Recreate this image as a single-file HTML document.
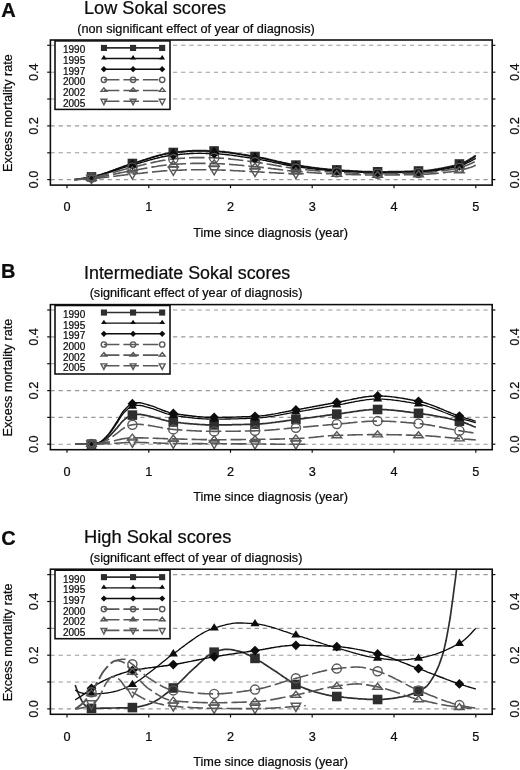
<!DOCTYPE html>
<html><head><meta charset="utf-8"><title>Excess mortality rate by Sokal score</title>
<style>html,body{margin:0;padding:0;background:#fff;}body{width:520px;height:770px;overflow:hidden;font-family:"Liberation Sans",sans-serif;}svg{display:block;}text{fill:#0a0a0a;stroke:#0a0a0a;stroke-width:0.22px;}</style>
</head><body>
<svg width="520" height="770" viewBox="0 0 520 770" font-family="Liberation Sans, sans-serif">
<rect width="520" height="770" fill="#fff"/>
<filter id="soft" x="0" y="0" width="100%" height="100%" filterUnits="objectBoundingBox"><feGaussianBlur stdDeviation="0.38"/></filter>
<g filter="url(#soft)">
<rect width="520" height="770" fill="#fff"/>
<defs><clipPath id="cpA"><rect x="50.4" y="40.0" width="441.8" height="145.1"/></clipPath>
<clipPath id="cpB"><rect x="50.4" y="304.6" width="441.8" height="145.1"/></clipPath>
<clipPath id="cpC"><rect x="50.4" y="569.2" width="441.8" height="145.1"/></clipPath></defs>
<g id="panelA">
<text x="1.2" y="17.1" font-size="20" font-weight="bold" fill="#111">A</text>
<text x="84" y="14.0" font-size="18.15" fill="#111">Low Sokal scores</text>
<text x="196" y="32.5" font-size="12.7" fill="#111" text-anchor="middle">(non significant effect of year of diagnosis)</text>
<line x1="50.4" y1="179.6" x2="492.2" y2="179.6" stroke="#9a9a9a" stroke-width="1.1" stroke-dasharray="4.3 3.87"/>
<line x1="50.4" y1="152.8" x2="492.2" y2="152.8" stroke="#9a9a9a" stroke-width="1.1" stroke-dasharray="4.3 3.87"/>
<line x1="50.4" y1="125.9" x2="492.2" y2="125.9" stroke="#9a9a9a" stroke-width="1.1" stroke-dasharray="4.3 3.87"/>
<line x1="50.4" y1="99.0" x2="492.2" y2="99.0" stroke="#9a9a9a" stroke-width="1.1" stroke-dasharray="4.3 3.87"/>
<line x1="50.4" y1="72.2" x2="492.2" y2="72.2" stroke="#9a9a9a" stroke-width="1.1" stroke-dasharray="4.3 3.87"/>
<line x1="50.4" y1="45.3" x2="492.2" y2="45.3" stroke="#9a9a9a" stroke-width="1.1" stroke-dasharray="4.3 3.87"/>
<g clip-path="url(#cpA)" fill="none">
<path d="M74.4 179.6 L75.7 179.5 L77.1 179.3 L78.4 179.1 L79.8 178.9 L81.2 178.7 L82.5 178.5 L83.9 178.3 L85.2 178.1 L86.6 177.9 L88.0 177.6 L89.3 177.3 L90.7 177.1 L92.0 176.8 L93.4 176.5 L94.8 176.2 L96.1 175.8 L97.5 175.5 L98.8 175.1 L100.2 174.7 L101.6 174.3 L102.9 173.8 L104.3 173.4 L105.7 172.9 L107.0 172.5 L108.4 172.0 L109.7 171.5 L111.1 171.0 L112.5 170.5 L113.8 170.0 L115.2 169.5 L116.5 169.0 L117.9 168.5 L119.3 168.0 L120.6 167.5 L122.0 167.0 L123.3 166.5 L124.7 166.0 L126.1 165.5 L127.4 165.1 L128.8 164.6 L130.1 164.2 L131.5 163.8 L132.9 163.4 L134.2 162.9 L135.6 162.5 L136.9 162.1 L138.3 161.7 L139.7 161.2 L141.0 160.8 L142.4 160.4 L143.8 159.9 L145.1 159.5 L146.5 159.0 L147.8 158.6 L149.2 158.2 L150.6 157.8 L151.9 157.3 L153.3 156.9 L154.6 156.5 L156.0 156.1 L157.4 155.7 L158.7 155.4 L160.1 155.0 L161.4 154.7 L162.8 154.3 L164.2 154.0 L165.5 153.7 L166.9 153.5 L168.2 153.2 L169.6 153.0 L171.0 152.8 L172.3 152.6 L173.7 152.4 L175.0 152.3 L176.4 152.1 L177.8 152.0 L179.1 151.8 L180.5 151.7 L181.8 151.5 L183.2 151.4 L184.6 151.3 L185.9 151.2 L187.3 151.0 L188.7 150.9 L190.0 150.9 L191.4 150.8 L192.7 150.7 L194.1 150.7 L195.5 150.6 L196.8 150.6 L198.2 150.6 L199.5 150.6 L200.9 150.6 L202.3 150.6 L203.6 150.7 L205.0 150.7 L206.3 150.7 L207.7 150.8 L209.1 150.8 L210.4 150.9 L211.8 150.9 L213.1 151.0 L214.5 151.0 L215.9 151.1 L217.2 151.2 L218.6 151.2 L219.9 151.4 L221.3 151.5 L222.7 151.6 L224.0 151.7 L225.4 151.9 L226.8 152.0 L228.1 152.2 L229.5 152.4 L230.8 152.6 L232.2 152.8 L233.6 153.0 L234.9 153.2 L236.3 153.4 L237.6 153.6 L239.0 153.8 L240.4 154.0 L241.7 154.3 L243.1 154.5 L244.4 154.7 L245.8 154.9 L247.2 155.2 L248.5 155.4 L249.9 155.6 L251.2 155.9 L252.6 156.1 L254.0 156.3 L255.3 156.6 L256.7 156.8 L258.0 157.0 L259.4 157.3 L260.8 157.6 L262.1 157.8 L263.5 158.1 L264.8 158.4 L266.2 158.7 L267.6 159.0 L268.9 159.3 L270.3 159.7 L271.7 160.0 L273.0 160.3 L274.4 160.6 L275.7 160.9 L277.1 161.3 L278.5 161.6 L279.8 161.9 L281.2 162.2 L282.5 162.5 L283.9 162.8 L285.3 163.1 L286.6 163.4 L288.0 163.7 L289.3 164.0 L290.7 164.2 L292.1 164.5 L293.4 164.7 L294.8 164.9 L296.1 165.1 L297.5 165.3 L298.9 165.5 L300.2 165.7 L301.6 165.9 L302.9 166.1 L304.3 166.3 L305.7 166.5 L307.0 166.7 L308.4 166.9 L309.8 167.1 L311.1 167.3 L312.5 167.5 L313.8 167.6 L315.2 167.8 L316.6 168.0 L317.9 168.1 L319.3 168.3 L320.6 168.5 L322.0 168.6 L323.4 168.8 L324.7 168.9 L326.1 169.0 L327.4 169.2 L328.8 169.3 L330.2 169.4 L331.5 169.5 L332.9 169.7 L334.2 169.8 L335.6 169.9 L337.0 169.9 L338.3 170.0 L339.7 170.1 L341.0 170.2 L342.4 170.3 L343.8 170.4 L345.1 170.5 L346.5 170.6 L347.8 170.7 L349.2 170.7 L350.6 170.8 L351.9 170.9 L353.3 171.0 L354.7 171.1 L356.0 171.1 L357.4 171.2 L358.7 171.3 L360.1 171.4 L361.5 171.4 L362.8 171.5 L364.2 171.5 L365.5 171.6 L366.9 171.6 L368.3 171.7 L369.6 171.7 L371.0 171.7 L372.3 171.8 L373.7 171.8 L375.1 171.8 L376.4 171.8 L377.8 171.8 L379.1 171.8 L380.5 171.8 L381.9 171.8 L383.2 171.8 L384.6 171.8 L385.9 171.8 L387.3 171.8 L388.7 171.7 L390.0 171.7 L391.4 171.7 L392.8 171.7 L394.1 171.7 L395.5 171.6 L396.8 171.6 L398.2 171.6 L399.6 171.6 L400.9 171.5 L402.3 171.5 L403.6 171.5 L405.0 171.4 L406.4 171.4 L407.7 171.4 L409.1 171.3 L410.4 171.3 L411.8 171.2 L413.2 171.2 L414.5 171.1 L415.9 171.1 L417.2 171.1 L418.6 171.0 L420.0 170.9 L421.3 170.9 L422.7 170.8 L424.0 170.7 L425.4 170.6 L426.8 170.5 L428.1 170.3 L429.5 170.2 L430.8 170.0 L432.2 169.8 L433.6 169.6 L434.9 169.4 L436.3 169.2 L437.7 169.0 L439.0 168.7 L440.4 168.5 L441.7 168.2 L443.1 168.0 L444.5 167.7 L445.8 167.4 L447.2 167.1 L448.5 166.8 L449.9 166.5 L451.3 166.2 L452.6 165.8 L454.0 165.5 L455.3 165.1 L456.7 164.8 L458.1 164.4 L459.4 164.0 L460.8 163.6 L462.1 163.1 L463.5 162.5 L464.9 161.9 L466.2 161.2 L467.6 160.4 L468.9 159.7 L470.3 158.8 L471.7 158.0 L473.0 157.2 L474.4 156.3 L475.8 155.4" stroke="#2e2e2e" stroke-width="1.7"/>
<path d="M74.4 179.6 L75.7 179.5 L77.1 179.3 L78.4 179.1 L79.8 178.9 L81.2 178.7 L82.5 178.5 L83.9 178.3 L85.2 178.1 L86.6 177.9 L88.0 177.6 L89.3 177.4 L90.7 177.1 L92.0 176.8 L93.4 176.6 L94.8 176.2 L96.1 175.9 L97.5 175.5 L98.8 175.2 L100.2 174.8 L101.6 174.4 L102.9 173.9 L104.3 173.5 L105.7 173.0 L107.0 172.6 L108.4 172.1 L109.7 171.6 L111.1 171.1 L112.5 170.6 L113.8 170.1 L115.2 169.6 L116.5 169.1 L117.9 168.6 L119.3 168.1 L120.6 167.7 L122.0 167.2 L123.3 166.7 L124.7 166.2 L126.1 165.7 L127.4 165.3 L128.8 164.8 L130.1 164.4 L131.5 164.0 L132.9 163.6 L134.2 163.2 L135.6 162.8 L136.9 162.4 L138.3 161.9 L139.7 161.5 L141.0 161.1 L142.4 160.6 L143.8 160.2 L145.1 159.8 L146.5 159.4 L147.8 158.9 L149.2 158.5 L150.6 158.1 L151.9 157.7 L153.3 157.3 L154.6 156.9 L156.0 156.5 L157.4 156.1 L158.7 155.7 L160.1 155.4 L161.4 155.1 L162.8 154.7 L164.2 154.4 L165.5 154.1 L166.9 153.9 L168.2 153.6 L169.6 153.4 L171.0 153.2 L172.3 153.0 L173.7 152.8 L175.0 152.7 L176.4 152.5 L177.8 152.4 L179.1 152.2 L180.5 152.1 L181.8 152.0 L183.2 151.8 L184.6 151.7 L185.9 151.6 L187.3 151.5 L188.7 151.4 L190.0 151.3 L191.4 151.2 L192.7 151.1 L194.1 151.1 L195.5 151.1 L196.8 151.0 L198.2 151.0 L199.5 151.0 L200.9 151.1 L202.3 151.1 L203.6 151.1 L205.0 151.1 L206.3 151.2 L207.7 151.2 L209.1 151.3 L210.4 151.3 L211.8 151.3 L213.1 151.4 L214.5 151.4 L215.9 151.5 L217.2 151.6 L218.6 151.7 L219.9 151.8 L221.3 151.9 L222.7 152.0 L224.0 152.1 L225.4 152.3 L226.8 152.5 L228.1 152.6 L229.5 152.8 L230.8 153.0 L232.2 153.2 L233.6 153.4 L234.9 153.6 L236.3 153.8 L237.6 154.0 L239.0 154.2 L240.4 154.4 L241.7 154.6 L243.1 154.9 L244.4 155.1 L245.8 155.3 L247.2 155.5 L248.5 155.8 L249.9 156.0 L251.2 156.2 L252.6 156.5 L254.0 156.7 L255.3 156.9 L256.7 157.1 L258.0 157.4 L259.4 157.6 L260.8 157.9 L262.1 158.2 L263.5 158.5 L264.8 158.8 L266.2 159.1 L267.6 159.4 L268.9 159.7 L270.3 160.0 L271.7 160.3 L273.0 160.6 L274.4 160.9 L275.7 161.3 L277.1 161.6 L278.5 161.9 L279.8 162.2 L281.2 162.5 L282.5 162.8 L283.9 163.1 L285.3 163.4 L286.6 163.7 L288.0 164.0 L289.3 164.3 L290.7 164.5 L292.1 164.8 L293.4 165.0 L294.8 165.3 L296.1 165.5 L297.5 165.7 L298.9 165.9 L300.2 166.1 L301.6 166.3 L302.9 166.5 L304.3 166.7 L305.7 166.9 L307.0 167.0 L308.4 167.2 L309.8 167.4 L311.1 167.6 L312.5 167.8 L313.8 167.9 L315.2 168.1 L316.6 168.3 L317.9 168.4 L319.3 168.6 L320.6 168.8 L322.0 168.9 L323.4 169.1 L324.7 169.2 L326.1 169.3 L327.4 169.5 L328.8 169.6 L330.2 169.7 L331.5 169.8 L332.9 169.9 L334.2 170.0 L335.6 170.1 L337.0 170.2 L338.3 170.3 L339.7 170.4 L341.0 170.5 L342.4 170.6 L343.8 170.7 L345.1 170.8 L346.5 170.9 L347.8 171.0 L349.2 171.0 L350.6 171.1 L351.9 171.2 L353.3 171.3 L354.7 171.4 L356.0 171.4 L357.4 171.5 L358.7 171.6 L360.1 171.6 L361.5 171.7 L362.8 171.8 L364.2 171.8 L365.5 171.9 L366.9 171.9 L368.3 172.0 L369.6 172.0 L371.0 172.0 L372.3 172.1 L373.7 172.1 L375.1 172.1 L376.4 172.1 L377.8 172.1 L379.1 172.1 L380.5 172.1 L381.9 172.1 L383.2 172.1 L384.6 172.1 L385.9 172.1 L387.3 172.1 L388.7 172.0 L390.0 172.0 L391.4 172.0 L392.8 172.0 L394.1 172.0 L395.5 172.0 L396.8 171.9 L398.2 171.9 L399.6 171.9 L400.9 171.9 L402.3 171.8 L403.6 171.8 L405.0 171.8 L406.4 171.7 L407.7 171.7 L409.1 171.7 L410.4 171.6 L411.8 171.6 L413.2 171.6 L414.5 171.5 L415.9 171.5 L417.2 171.4 L418.6 171.4 L420.0 171.3 L421.3 171.3 L422.7 171.2 L424.0 171.1 L425.4 171.0 L426.8 170.9 L428.1 170.7 L429.5 170.6 L430.8 170.4 L432.2 170.3 L433.6 170.1 L434.9 169.9 L436.3 169.7 L437.7 169.5 L439.0 169.2 L440.4 169.0 L441.7 168.8 L443.1 168.5 L444.5 168.2 L445.8 168.0 L447.2 167.7 L448.5 167.4 L449.9 167.1 L451.3 166.8 L452.6 166.4 L454.0 166.1 L455.3 165.8 L456.7 165.4 L458.1 165.1 L459.4 164.7 L460.8 164.3 L462.1 163.8 L463.5 163.3 L464.9 162.7 L466.2 162.0 L467.6 161.3 L468.9 160.6 L470.3 159.8 L471.7 159.0 L473.0 158.2 L474.4 157.3 L475.8 156.5" stroke="#0c0c0c" stroke-width="1.3"/>
<path d="M74.4 179.6 L75.7 179.5 L77.1 179.3 L78.4 179.2 L79.8 179.0 L81.2 178.8 L82.5 178.6 L83.9 178.4 L85.2 178.2 L86.6 178.0 L88.0 177.8 L89.3 177.6 L90.7 177.3 L92.0 177.1 L93.4 176.8 L94.8 176.5 L96.1 176.2 L97.5 175.9 L98.8 175.5 L100.2 175.2 L101.6 174.8 L102.9 174.4 L104.3 174.0 L105.7 173.6 L107.0 173.1 L108.4 172.7 L109.7 172.3 L111.1 171.8 L112.5 171.4 L113.8 170.9 L115.2 170.5 L116.5 170.0 L117.9 169.5 L119.3 169.1 L120.6 168.6 L122.0 168.2 L123.3 167.7 L124.7 167.3 L126.1 166.9 L127.4 166.4 L128.8 166.0 L130.1 165.6 L131.5 165.3 L132.9 164.9 L134.2 164.5 L135.6 164.1 L136.9 163.8 L138.3 163.4 L139.7 163.0 L141.0 162.6 L142.4 162.2 L143.8 161.8 L145.1 161.4 L146.5 161.0 L147.8 160.6 L149.2 160.2 L150.6 159.8 L151.9 159.5 L153.3 159.1 L154.6 158.7 L156.0 158.4 L157.4 158.0 L158.7 157.7 L160.1 157.4 L161.4 157.0 L162.8 156.7 L164.2 156.5 L165.5 156.2 L166.9 156.0 L168.2 155.7 L169.6 155.5 L171.0 155.3 L172.3 155.2 L173.7 155.0 L175.0 154.9 L176.4 154.7 L177.8 154.6 L179.1 154.5 L180.5 154.3 L181.8 154.2 L183.2 154.1 L184.6 154.0 L185.9 153.9 L187.3 153.8 L188.7 153.7 L190.0 153.6 L191.4 153.5 L192.7 153.5 L194.1 153.4 L195.5 153.4 L196.8 153.4 L198.2 153.4 L199.5 153.4 L200.9 153.4 L202.3 153.4 L203.6 153.4 L205.0 153.4 L206.3 153.5 L207.7 153.5 L209.1 153.6 L210.4 153.6 L211.8 153.6 L213.1 153.7 L214.5 153.7 L215.9 153.8 L217.2 153.9 L218.6 153.9 L219.9 154.0 L221.3 154.1 L222.7 154.3 L224.0 154.4 L225.4 154.5 L226.8 154.7 L228.1 154.8 L229.5 155.0 L230.8 155.1 L232.2 155.3 L233.6 155.5 L234.9 155.7 L236.3 155.9 L237.6 156.1 L239.0 156.3 L240.4 156.5 L241.7 156.7 L243.1 156.9 L244.4 157.1 L245.8 157.3 L247.2 157.5 L248.5 157.7 L249.9 157.9 L251.2 158.1 L252.6 158.3 L254.0 158.5 L255.3 158.7 L256.7 159.0 L258.0 159.2 L259.4 159.4 L260.8 159.7 L262.1 159.9 L263.5 160.2 L264.8 160.4 L266.2 160.7 L267.6 161.0 L268.9 161.3 L270.3 161.6 L271.7 161.9 L273.0 162.2 L274.4 162.5 L275.7 162.8 L277.1 163.0 L278.5 163.3 L279.8 163.6 L281.2 163.9 L282.5 164.2 L283.9 164.5 L285.3 164.7 L286.6 165.0 L288.0 165.3 L289.3 165.5 L290.7 165.8 L292.1 166.0 L293.4 166.2 L294.8 166.4 L296.1 166.6 L297.5 166.8 L298.9 167.0 L300.2 167.2 L301.6 167.3 L302.9 167.5 L304.3 167.7 L305.7 167.9 L307.0 168.1 L308.4 168.2 L309.8 168.4 L311.1 168.6 L312.5 168.7 L313.8 168.9 L315.2 169.0 L316.6 169.2 L317.9 169.3 L319.3 169.5 L320.6 169.6 L322.0 169.8 L323.4 169.9 L324.7 170.0 L326.1 170.2 L327.4 170.3 L328.8 170.4 L330.2 170.5 L331.5 170.6 L332.9 170.7 L334.2 170.8 L335.6 170.9 L337.0 171.0 L338.3 171.1 L339.7 171.2 L341.0 171.2 L342.4 171.3 L343.8 171.4 L345.1 171.5 L346.5 171.6 L347.8 171.6 L349.2 171.7 L350.6 171.8 L351.9 171.9 L353.3 171.9 L354.7 172.0 L356.0 172.1 L357.4 172.2 L358.7 172.2 L360.1 172.3 L361.5 172.3 L362.8 172.4 L364.2 172.4 L365.5 172.5 L366.9 172.5 L368.3 172.6 L369.6 172.6 L371.0 172.6 L372.3 172.7 L373.7 172.7 L375.1 172.7 L376.4 172.7 L377.8 172.7 L379.1 172.7 L380.5 172.7 L381.9 172.7 L383.2 172.7 L384.6 172.7 L385.9 172.7 L387.3 172.7 L388.7 172.6 L390.0 172.6 L391.4 172.6 L392.8 172.6 L394.1 172.6 L395.5 172.6 L396.8 172.5 L398.2 172.5 L399.6 172.5 L400.9 172.5 L402.3 172.4 L403.6 172.4 L405.0 172.4 L406.4 172.4 L407.7 172.3 L409.1 172.3 L410.4 172.3 L411.8 172.2 L413.2 172.2 L414.5 172.2 L415.9 172.1 L417.2 172.1 L418.6 172.0 L420.0 172.0 L421.3 171.9 L422.7 171.9 L424.0 171.8 L425.4 171.7 L426.8 171.6 L428.1 171.4 L429.5 171.3 L430.8 171.2 L432.2 171.0 L433.6 170.8 L434.9 170.7 L436.3 170.5 L437.7 170.3 L439.0 170.1 L440.4 169.8 L441.7 169.6 L443.1 169.4 L444.5 169.1 L445.8 168.9 L447.2 168.6 L448.5 168.3 L449.9 168.1 L451.3 167.8 L452.6 167.5 L454.0 167.2 L455.3 166.9 L456.7 166.5 L458.1 166.2 L459.4 165.9 L460.8 165.5 L462.1 165.1 L463.5 164.6 L464.9 164.0 L466.2 163.4 L467.6 162.7 L468.9 162.0 L470.3 161.3 L471.7 160.6 L473.0 159.8 L474.4 159.1 L475.8 158.3" stroke="#0c0c0c" stroke-width="1.4"/>
<path d="M74.4 179.6 L75.7 179.5 L77.1 179.4 L78.4 179.2 L79.8 179.1 L81.2 178.9 L82.5 178.8 L83.9 178.6 L85.2 178.5 L86.6 178.3 L88.0 178.1 L89.3 177.9 L90.7 177.7 L92.0 177.5 L93.4 177.3 L94.8 177.0 L96.1 176.7 L97.5 176.5 L98.8 176.2 L100.2 175.9 L101.6 175.6 L102.9 175.2 L104.3 174.9 L105.7 174.5 L107.0 174.2 L108.4 173.8 L109.7 173.4 L111.1 173.1 L112.5 172.7 L113.8 172.3 L115.2 171.9 L116.5 171.5 L117.9 171.1 L119.3 170.8 L120.6 170.4 L122.0 170.0 L123.3 169.6 L124.7 169.3 L126.1 168.9 L127.4 168.6 L128.8 168.2 L130.1 167.9 L131.5 167.6 L132.9 167.3 L134.2 166.9 L135.6 166.6 L136.9 166.3 L138.3 166.0 L139.7 165.6 L141.0 165.3 L142.4 165.0 L143.8 164.6 L145.1 164.3 L146.5 164.0 L147.8 163.6 L149.2 163.3 L150.6 163.0 L151.9 162.7 L153.3 162.4 L154.6 162.1 L156.0 161.8 L157.4 161.5 L158.7 161.2 L160.1 160.9 L161.4 160.7 L162.8 160.4 L164.2 160.2 L165.5 160.0 L166.9 159.7 L168.2 159.6 L169.6 159.4 L171.0 159.2 L172.3 159.1 L173.7 159.0 L175.0 158.8 L176.4 158.7 L177.8 158.6 L179.1 158.5 L180.5 158.4 L181.8 158.3 L183.2 158.2 L184.6 158.1 L185.9 158.0 L187.3 157.9 L188.7 157.8 L190.0 157.8 L191.4 157.7 L192.7 157.6 L194.1 157.6 L195.5 157.6 L196.8 157.6 L198.2 157.6 L199.5 157.6 L200.9 157.6 L202.3 157.6 L203.6 157.6 L205.0 157.6 L206.3 157.7 L207.7 157.7 L209.1 157.7 L210.4 157.8 L211.8 157.8 L213.1 157.8 L214.5 157.9 L215.9 157.9 L217.2 158.0 L218.6 158.1 L219.9 158.1 L221.3 158.2 L222.7 158.3 L224.0 158.4 L225.4 158.5 L226.8 158.7 L228.1 158.8 L229.5 158.9 L230.8 159.1 L232.2 159.2 L233.6 159.4 L234.9 159.5 L236.3 159.7 L237.6 159.8 L239.0 160.0 L240.4 160.2 L241.7 160.3 L243.1 160.5 L244.4 160.7 L245.8 160.9 L247.2 161.0 L248.5 161.2 L249.9 161.4 L251.2 161.6 L252.6 161.7 L254.0 161.9 L255.3 162.1 L256.7 162.3 L258.0 162.5 L259.4 162.6 L260.8 162.9 L262.1 163.1 L263.5 163.3 L264.8 163.5 L266.2 163.7 L267.6 164.0 L268.9 164.2 L270.3 164.4 L271.7 164.7 L273.0 164.9 L274.4 165.2 L275.7 165.4 L277.1 165.7 L278.5 165.9 L279.8 166.1 L281.2 166.4 L282.5 166.6 L283.9 166.8 L285.3 167.1 L286.6 167.3 L288.0 167.5 L289.3 167.7 L290.7 167.9 L292.1 168.1 L293.4 168.3 L294.8 168.4 L296.1 168.6 L297.5 168.8 L298.9 168.9 L300.2 169.1 L301.6 169.2 L302.9 169.4 L304.3 169.5 L305.7 169.7 L307.0 169.8 L308.4 170.0 L309.8 170.1 L311.1 170.2 L312.5 170.4 L313.8 170.5 L315.2 170.6 L316.6 170.8 L317.9 170.9 L319.3 171.0 L320.6 171.1 L322.0 171.2 L323.4 171.4 L324.7 171.5 L326.1 171.6 L327.4 171.7 L328.8 171.8 L330.2 171.9 L331.5 172.0 L332.9 172.0 L334.2 172.1 L335.6 172.2 L337.0 172.3 L338.3 172.3 L339.7 172.4 L341.0 172.5 L342.4 172.5 L343.8 172.6 L345.1 172.7 L346.5 172.7 L347.8 172.8 L349.2 172.9 L350.6 172.9 L351.9 173.0 L353.3 173.1 L354.7 173.1 L356.0 173.2 L357.4 173.2 L358.7 173.3 L360.1 173.3 L361.5 173.4 L362.8 173.4 L364.2 173.5 L365.5 173.5 L366.9 173.5 L368.3 173.6 L369.6 173.6 L371.0 173.6 L372.3 173.6 L373.7 173.7 L375.1 173.7 L376.4 173.7 L377.8 173.7 L379.1 173.7 L380.5 173.7 L381.9 173.7 L383.2 173.7 L384.6 173.7 L385.9 173.7 L387.3 173.6 L388.7 173.6 L390.0 173.6 L391.4 173.6 L392.8 173.6 L394.1 173.6 L395.5 173.6 L396.8 173.5 L398.2 173.5 L399.6 173.5 L400.9 173.5 L402.3 173.4 L403.6 173.4 L405.0 173.4 L406.4 173.4 L407.7 173.3 L409.1 173.3 L410.4 173.3 L411.8 173.2 L413.2 173.2 L414.5 173.2 L415.9 173.1 L417.2 173.1 L418.6 173.1 L420.0 173.0 L421.3 173.0 L422.7 172.9 L424.0 172.8 L425.4 172.7 L426.8 172.6 L428.1 172.5 L429.5 172.4 L430.8 172.3 L432.2 172.2 L433.6 172.0 L434.9 171.9 L436.3 171.7 L437.7 171.5 L439.0 171.4 L440.4 171.2 L441.7 171.0 L443.1 170.8 L444.5 170.6 L445.8 170.3 L447.2 170.1 L448.5 169.9 L449.9 169.6 L451.3 169.4 L452.6 169.1 L454.0 168.9 L455.3 168.6 L456.7 168.3 L458.1 168.0 L459.4 167.8 L460.8 167.4 L462.1 167.1 L463.5 166.6 L464.9 166.1 L466.2 165.6 L467.6 165.0 L468.9 164.4 L470.3 163.8 L471.7 163.2 L473.0 162.5 L474.4 161.9 L475.8 161.2" stroke="#585858" stroke-width="1.6" stroke-dasharray="15.5 4"/>
<path d="M74.4 179.6 L75.7 179.5 L77.1 179.4 L78.4 179.3 L79.8 179.2 L81.2 179.1 L82.5 179.0 L83.9 178.9 L85.2 178.8 L86.6 178.6 L88.0 178.5 L89.3 178.3 L90.7 178.2 L92.0 178.0 L93.4 177.9 L94.8 177.7 L96.1 177.5 L97.5 177.3 L98.8 177.1 L100.2 176.9 L101.6 176.6 L102.9 176.4 L104.3 176.1 L105.7 175.9 L107.0 175.6 L108.4 175.3 L109.7 175.1 L111.1 174.8 L112.5 174.5 L113.8 174.2 L115.2 173.9 L116.5 173.7 L117.9 173.4 L119.3 173.1 L120.6 172.8 L122.0 172.5 L123.3 172.3 L124.7 172.0 L126.1 171.7 L127.4 171.5 L128.8 171.2 L130.1 171.0 L131.5 170.7 L132.9 170.5 L134.2 170.3 L135.6 170.0 L136.9 169.8 L138.3 169.6 L139.7 169.3 L141.0 169.1 L142.4 168.8 L143.8 168.6 L145.1 168.3 L146.5 168.1 L147.8 167.8 L149.2 167.6 L150.6 167.4 L151.9 167.1 L153.3 166.9 L154.6 166.7 L156.0 166.5 L157.4 166.2 L158.7 166.0 L160.1 165.8 L161.4 165.6 L162.8 165.5 L164.2 165.3 L165.5 165.1 L166.9 165.0 L168.2 164.8 L169.6 164.7 L171.0 164.6 L172.3 164.5 L173.7 164.4 L175.0 164.3 L176.4 164.2 L177.8 164.1 L179.1 164.0 L180.5 164.0 L181.8 163.9 L183.2 163.8 L184.6 163.7 L185.9 163.7 L187.3 163.6 L188.7 163.6 L190.0 163.5 L191.4 163.5 L192.7 163.4 L194.1 163.4 L195.5 163.4 L196.8 163.4 L198.2 163.4 L199.5 163.4 L200.9 163.4 L202.3 163.4 L203.6 163.4 L205.0 163.4 L206.3 163.4 L207.7 163.5 L209.1 163.5 L210.4 163.5 L211.8 163.5 L213.1 163.6 L214.5 163.6 L215.9 163.6 L217.2 163.7 L218.6 163.7 L219.9 163.8 L221.3 163.8 L222.7 163.9 L224.0 164.0 L225.4 164.1 L226.8 164.2 L228.1 164.3 L229.5 164.4 L230.8 164.5 L232.2 164.6 L233.6 164.7 L234.9 164.8 L236.3 164.9 L237.6 165.0 L239.0 165.2 L240.4 165.3 L241.7 165.4 L243.1 165.5 L244.4 165.7 L245.8 165.8 L247.2 165.9 L248.5 166.1 L249.9 166.2 L251.2 166.3 L252.6 166.4 L254.0 166.6 L255.3 166.7 L256.7 166.8 L258.0 167.0 L259.4 167.1 L260.8 167.3 L262.1 167.4 L263.5 167.6 L264.8 167.7 L266.2 167.9 L267.6 168.1 L268.9 168.2 L270.3 168.4 L271.7 168.6 L273.0 168.7 L274.4 168.9 L275.7 169.1 L277.1 169.3 L278.5 169.4 L279.8 169.6 L281.2 169.8 L282.5 170.0 L283.9 170.1 L285.3 170.3 L286.6 170.4 L288.0 170.6 L289.3 170.7 L290.7 170.9 L292.1 171.0 L293.4 171.2 L294.8 171.3 L296.1 171.4 L297.5 171.5 L298.9 171.6 L300.2 171.7 L301.6 171.8 L302.9 171.9 L304.3 172.1 L305.7 172.2 L307.0 172.3 L308.4 172.4 L309.8 172.5 L311.1 172.6 L312.5 172.7 L313.8 172.8 L315.2 172.9 L316.6 173.0 L317.9 173.1 L319.3 173.1 L320.6 173.2 L322.0 173.3 L323.4 173.4 L324.7 173.5 L326.1 173.6 L327.4 173.6 L328.8 173.7 L330.2 173.8 L331.5 173.8 L332.9 173.9 L334.2 173.9 L335.6 174.0 L337.0 174.0 L338.3 174.1 L339.7 174.1 L341.0 174.2 L342.4 174.2 L343.8 174.3 L345.1 174.3 L346.5 174.4 L347.8 174.4 L349.2 174.5 L350.6 174.5 L351.9 174.6 L353.3 174.6 L354.7 174.7 L356.0 174.7 L357.4 174.7 L358.7 174.8 L360.1 174.8 L361.5 174.9 L362.8 174.9 L364.2 174.9 L365.5 174.9 L366.9 175.0 L368.3 175.0 L369.6 175.0 L371.0 175.0 L372.3 175.0 L373.7 175.1 L375.1 175.1 L376.4 175.1 L377.8 175.1 L379.1 175.1 L380.5 175.1 L381.9 175.1 L383.2 175.1 L384.6 175.0 L385.9 175.0 L387.3 175.0 L388.7 175.0 L390.0 175.0 L391.4 175.0 L392.8 175.0 L394.1 175.0 L395.5 174.9 L396.8 174.9 L398.2 174.9 L399.6 174.9 L400.9 174.9 L402.3 174.9 L403.6 174.8 L405.0 174.8 L406.4 174.8 L407.7 174.8 L409.1 174.7 L410.4 174.7 L411.8 174.7 L413.2 174.6 L414.5 174.6 L415.9 174.6 L417.2 174.6 L418.6 174.5 L420.0 174.5 L421.3 174.4 L422.7 174.4 L424.0 174.3 L425.4 174.3 L426.8 174.2 L428.1 174.1 L429.5 174.0 L430.8 173.9 L432.2 173.8 L433.6 173.7 L434.9 173.6 L436.3 173.5 L437.7 173.3 L439.0 173.2 L440.4 173.0 L441.7 172.9 L443.1 172.7 L444.5 172.6 L445.8 172.4 L447.2 172.2 L448.5 172.0 L449.9 171.9 L451.3 171.7 L452.6 171.5 L454.0 171.3 L455.3 171.1 L456.7 170.8 L458.1 170.6 L459.4 170.4 L460.8 170.2 L462.1 169.9 L463.5 169.5 L464.9 169.1 L466.2 168.7 L467.6 168.3 L468.9 167.8 L470.3 167.4 L471.7 166.9 L473.0 166.4 L474.4 165.8 L475.8 165.3" stroke="#585858" stroke-width="1.6" stroke-dasharray="15.5 4"/>
<path d="M74.4 179.6 L75.7 179.5 L77.1 179.5 L78.4 179.4 L79.8 179.4 L81.2 179.3 L82.5 179.2 L83.9 179.2 L85.2 179.1 L86.6 179.0 L88.0 178.9 L89.3 178.8 L90.7 178.7 L92.0 178.7 L93.4 178.5 L94.8 178.4 L96.1 178.3 L97.5 178.2 L98.9 178.1 L100.2 177.9 L101.6 177.8 L102.9 177.6 L104.3 177.5 L105.7 177.3 L107.0 177.2 L108.4 177.0 L109.7 176.8 L111.1 176.7 L112.5 176.5 L113.8 176.3 L115.2 176.2 L116.5 176.0 L117.9 175.8 L119.3 175.6 L120.6 175.5 L122.0 175.3 L123.3 175.1 L124.7 175.0 L126.1 174.8 L127.4 174.7 L128.8 174.5 L130.2 174.4 L131.5 174.2 L132.9 174.1 L134.2 173.9 L135.6 173.8 L137.0 173.6 L138.3 173.5 L139.7 173.4 L141.0 173.2 L142.4 173.1 L143.8 172.9 L145.1 172.8 L146.5 172.6 L147.8 172.5 L149.2 172.3 L150.6 172.2 L151.9 172.0 L153.3 171.9 L154.7 171.8 L156.0 171.6 L157.4 171.5 L158.7 171.4 L160.1 171.2 L161.5 171.1 L162.8 171.0 L164.2 170.9 L165.5 170.8 L166.9 170.7 L168.3 170.6 L169.6 170.6 L171.0 170.5 L172.3 170.4 L173.7 170.4 L175.1 170.3 L176.4 170.3 L177.8 170.2 L179.1 170.2 L180.5 170.1 L181.9 170.1 L183.2 170.0 L184.6 170.0 L186.0 169.9 L187.3 169.9 L188.7 169.9 L190.0 169.8 L191.4 169.8 L192.8 169.8 L194.1 169.8 L195.5 169.7 L196.8 169.7 L198.2 169.7 L199.6 169.7 L200.9 169.7 L202.3 169.8 L203.6 169.8 L205.0 169.8 L206.4 169.8 L207.7 169.8 L209.1 169.8 L210.4 169.8 L211.8 169.8 L213.2 169.9 L214.5 169.9 L215.9 169.9 L217.3 169.9 L218.6 170.0 L220.0 170.0 L221.3 170.0 L222.7 170.1 L224.1 170.1 L225.4 170.2 L226.8 170.3 L228.1 170.3 L229.5 170.4 L230.9 170.4 L232.2 170.5 L233.6 170.6 L234.9 170.7 L236.3 170.7 L237.7 170.8 L239.0 170.9 L240.4 171.0 L241.7 171.0 L243.1 171.1 L244.5 171.2 L245.8 171.3 L247.2 171.3 L248.6 171.4 L249.9 171.5 L251.3 171.6 L252.6 171.6 L254.0 171.7 L255.4 171.8 L256.7 171.8 L258.1 171.9 L259.4 172.0 L260.8 172.0 L262.2 172.1 L263.5 172.2 L264.9 172.3 L266.2 172.4 L267.6 172.4 L269.0 172.5 L270.3 172.6 L271.7 172.7 L273.0 172.8 L274.4 172.8 L275.8 172.9 L277.1 173.0 L278.5 173.1 L279.9 173.1 L281.2 173.2 L282.6 173.3 L283.9 173.3 L285.3 173.4 L286.7 173.5 L288.0 173.5 L289.4 173.6 L290.7 173.6 L292.1 173.6 L293.5 173.7 L294.8 173.7 L296.2 173.7 L297.5 173.8 L298.9 173.8 L300.3 173.8 L301.6 173.8 L303.0 173.8 L304.3 173.8 L305.7 173.8" stroke="#585858" stroke-width="1.6" stroke-dasharray="15.5 4"/>
</g>
<g>
<rect x="86.7" y="172.1" width="9.6" height="9.6" fill="#2e2e2e"/>
<rect x="127.6" y="158.7" width="9.6" height="9.6" fill="#2e2e2e"/>
<rect x="168.5" y="147.7" width="9.6" height="9.6" fill="#2e2e2e"/>
<rect x="209.3" y="146.2" width="9.6" height="9.6" fill="#2e2e2e"/>
<rect x="250.2" y="151.7" width="9.6" height="9.6" fill="#2e2e2e"/>
<rect x="291.1" y="160.3" width="9.6" height="9.6" fill="#2e2e2e"/>
<rect x="332.0" y="165.1" width="9.6" height="9.6" fill="#2e2e2e"/>
<rect x="372.8" y="167.0" width="9.6" height="9.6" fill="#2e2e2e"/>
<rect x="413.7" y="166.2" width="9.6" height="9.6" fill="#2e2e2e"/>
<rect x="454.6" y="159.2" width="9.6" height="9.6" fill="#2e2e2e"/>
<path d="M91.5 172.2 L96.1 179.5 L86.9 179.5 Z" fill="#0c0c0c"/>
<path d="M132.4 158.9 L137.0 166.2 L127.8 166.2 Z" fill="#0c0c0c"/>
<path d="M173.3 148.1 L177.9 155.4 L168.7 155.4 Z" fill="#0c0c0c"/>
<path d="M214.2 146.6 L218.8 153.9 L209.6 153.9 Z" fill="#0c0c0c"/>
<path d="M255.0 152.1 L259.6 159.4 L250.4 159.4 Z" fill="#0c0c0c"/>
<path d="M295.9 160.6 L300.5 167.9 L291.3 167.9 Z" fill="#0c0c0c"/>
<path d="M336.8 165.4 L341.4 172.7 L332.2 172.7 Z" fill="#0c0c0c"/>
<path d="M377.6 167.3 L382.2 174.6 L373.0 174.6 Z" fill="#0c0c0c"/>
<path d="M418.5 166.6 L423.1 173.9 L413.9 173.9 Z" fill="#0c0c0c"/>
<path d="M459.4 159.9 L464.0 167.2 L454.8 167.2 Z" fill="#0c0c0c"/>
<path d="M91.5 172.3 L96.4 177.2 L91.5 182.1 L86.6 177.2 Z" fill="#0c0c0c"/>
<path d="M132.4 160.1 L137.3 165.0 L132.4 169.9 L127.5 165.0 Z" fill="#0c0c0c"/>
<path d="M173.3 150.2 L178.2 155.1 L173.3 160.0 L168.4 155.1 Z" fill="#0c0c0c"/>
<path d="M214.2 148.8 L219.1 153.7 L214.2 158.6 L209.2 153.7 Z" fill="#0c0c0c"/>
<path d="M255.0 153.8 L259.9 158.7 L255.0 163.6 L250.1 158.7 Z" fill="#0c0c0c"/>
<path d="M295.9 161.7 L300.8 166.6 L295.9 171.5 L291.0 166.6 Z" fill="#0c0c0c"/>
<path d="M336.8 166.1 L341.7 171.0 L336.8 175.9 L331.9 171.0 Z" fill="#0c0c0c"/>
<path d="M377.6 167.8 L382.5 172.7 L377.6 177.6 L372.8 172.7 Z" fill="#0c0c0c"/>
<path d="M418.5 167.1 L423.4 172.0 L418.5 176.9 L413.6 172.0 Z" fill="#0c0c0c"/>
<path d="M459.4 161.0 L464.3 165.9 L459.4 170.8 L454.5 165.9 Z" fill="#0c0c0c"/>
<circle cx="91.5" cy="177.6" r="4.55" fill="none" stroke="#585858" stroke-width="1.4"/>
<circle cx="132.4" cy="167.4" r="4.55" fill="none" stroke="#585858" stroke-width="1.4"/>
<circle cx="173.3" cy="159.0" r="4.55" fill="none" stroke="#585858" stroke-width="1.4"/>
<circle cx="214.2" cy="157.9" r="4.55" fill="none" stroke="#585858" stroke-width="1.4"/>
<circle cx="255.0" cy="162.1" r="4.55" fill="none" stroke="#585858" stroke-width="1.4"/>
<circle cx="295.9" cy="168.6" r="4.55" fill="none" stroke="#585858" stroke-width="1.4"/>
<circle cx="336.8" cy="172.3" r="4.55" fill="none" stroke="#585858" stroke-width="1.4"/>
<circle cx="377.6" cy="173.7" r="4.55" fill="none" stroke="#585858" stroke-width="1.4"/>
<circle cx="418.5" cy="173.1" r="4.55" fill="none" stroke="#585858" stroke-width="1.4"/>
<circle cx="459.4" cy="167.8" r="4.55" fill="none" stroke="#585858" stroke-width="1.4"/>
<path d="M91.5 174.4 L96.3 180.4 L86.7 180.4 Z" fill="none" stroke="#585858" stroke-width="1.4"/>
<path d="M132.4 166.9 L137.2 172.9 L127.6 172.9 Z" fill="none" stroke="#585858" stroke-width="1.4"/>
<path d="M173.3 160.7 L178.1 166.7 L168.5 166.7 Z" fill="none" stroke="#585858" stroke-width="1.4"/>
<path d="M214.2 159.9 L219.0 165.9 L209.3 165.9 Z" fill="none" stroke="#585858" stroke-width="1.4"/>
<path d="M255.0 163.0 L259.8 169.0 L250.2 169.0 Z" fill="none" stroke="#585858" stroke-width="1.4"/>
<path d="M295.9 167.7 L300.7 173.7 L291.1 173.7 Z" fill="none" stroke="#585858" stroke-width="1.4"/>
<path d="M336.8 170.3 L341.6 176.3 L332.0 176.3 Z" fill="none" stroke="#585858" stroke-width="1.4"/>
<path d="M377.6 171.4 L382.4 177.4 L372.8 177.4 Z" fill="none" stroke="#585858" stroke-width="1.4"/>
<path d="M418.5 170.8 L423.3 176.8 L413.7 176.8 Z" fill="none" stroke="#585858" stroke-width="1.4"/>
<path d="M459.4 166.7 L464.2 172.7 L454.6 172.7 Z" fill="none" stroke="#585858" stroke-width="1.4"/>
<path d="M86.7 175.4 L96.3 175.4 L91.5 183.7 Z" fill="none" stroke="#585858" stroke-width="1.4"/>
<path d="M127.6 170.8 L137.2 170.8 L132.4 179.1 Z" fill="none" stroke="#585858" stroke-width="1.4"/>
<path d="M168.5 167.1 L178.1 167.1 L173.3 175.4 Z" fill="none" stroke="#585858" stroke-width="1.4"/>
<path d="M209.3 166.6 L219.0 166.6 L214.2 174.9 Z" fill="none" stroke="#585858" stroke-width="1.4"/>
<path d="M250.2 168.4 L259.8 168.4 L255.0 176.7 Z" fill="none" stroke="#585858" stroke-width="1.4"/>
<path d="M291.1 170.4 L300.7 170.4 L295.9 178.7 Z" fill="none" stroke="#585858" stroke-width="1.4"/>
</g>
<rect x="50.4" y="40.0" width="441.8" height="145.1" fill="none" stroke="#0a0a0a" stroke-width="1.55"/>
<line x1="67.0" y1="185.0" x2="67.0" y2="188.2" stroke="#111" stroke-width="1.2"/>
<text x="67.0" y="211.3" font-size="12.7" fill="#111" text-anchor="middle">0</text>
<line x1="148.8" y1="185.0" x2="148.8" y2="188.2" stroke="#111" stroke-width="1.2"/>
<text x="148.8" y="211.3" font-size="12.7" fill="#111" text-anchor="middle">1</text>
<line x1="230.5" y1="185.0" x2="230.5" y2="188.2" stroke="#111" stroke-width="1.2"/>
<text x="230.5" y="211.3" font-size="12.7" fill="#111" text-anchor="middle">2</text>
<line x1="312.2" y1="185.0" x2="312.2" y2="188.2" stroke="#111" stroke-width="1.2"/>
<text x="312.2" y="211.3" font-size="12.7" fill="#111" text-anchor="middle">3</text>
<line x1="394.0" y1="185.0" x2="394.0" y2="188.2" stroke="#111" stroke-width="1.2"/>
<text x="394.0" y="211.3" font-size="12.7" fill="#111" text-anchor="middle">4</text>
<line x1="475.8" y1="185.0" x2="475.8" y2="188.2" stroke="#111" stroke-width="1.2"/>
<text x="475.8" y="211.3" font-size="12.7" fill="#111" text-anchor="middle">5</text>
<line x1="47.2" y1="179.6" x2="50.4" y2="179.6" stroke="#111" stroke-width="1.2"/>
<line x1="492.2" y1="179.6" x2="495.4" y2="179.6" stroke="#111" stroke-width="1.2"/>
<text transform="translate(37.6 179.6) rotate(-90)" font-size="12.7" fill="#111" text-anchor="middle">0.0</text>
<text transform="translate(518.6 179.6) rotate(-90)" font-size="12.7" fill="#111" text-anchor="middle">0.0</text>
<line x1="47.2" y1="152.8" x2="50.4" y2="152.8" stroke="#111" stroke-width="1.2"/>
<line x1="492.2" y1="152.8" x2="495.4" y2="152.8" stroke="#111" stroke-width="1.2"/>
<line x1="47.2" y1="125.9" x2="50.4" y2="125.9" stroke="#111" stroke-width="1.2"/>
<line x1="492.2" y1="125.9" x2="495.4" y2="125.9" stroke="#111" stroke-width="1.2"/>
<text transform="translate(37.6 125.9) rotate(-90)" font-size="12.7" fill="#111" text-anchor="middle">0.2</text>
<text transform="translate(518.6 125.9) rotate(-90)" font-size="12.7" fill="#111" text-anchor="middle">0.2</text>
<line x1="47.2" y1="99.0" x2="50.4" y2="99.0" stroke="#111" stroke-width="1.2"/>
<line x1="492.2" y1="99.0" x2="495.4" y2="99.0" stroke="#111" stroke-width="1.2"/>
<line x1="47.2" y1="72.2" x2="50.4" y2="72.2" stroke="#111" stroke-width="1.2"/>
<line x1="492.2" y1="72.2" x2="495.4" y2="72.2" stroke="#111" stroke-width="1.2"/>
<text transform="translate(37.6 72.2) rotate(-90)" font-size="12.7" fill="#111" text-anchor="middle">0.4</text>
<text transform="translate(518.6 72.2) rotate(-90)" font-size="12.7" fill="#111" text-anchor="middle">0.4</text>
<line x1="47.2" y1="45.3" x2="50.4" y2="45.3" stroke="#111" stroke-width="1.2"/>
<line x1="492.2" y1="45.3" x2="495.4" y2="45.3" stroke="#111" stroke-width="1.2"/>
<text x="270.6" y="236.6" font-size="12.7" fill="#111" text-anchor="middle">Time since diagnosis (year)</text>
<text transform="translate(12.2 113.0) rotate(-90)" font-size="12.7" fill="#111" text-anchor="middle">Excess mortality rate</text>
<rect x="55.0" y="40.9" width="115.0" height="68.5" fill="#fff" stroke="#0a0a0a" stroke-width="1.55"/>
<text x="63" y="53.4" font-size="10" fill="#111">1990</text>
<line x1="103.9" y1="47.9" x2="162.2" y2="47.9" stroke="#2e2e2e" stroke-width="1.7"/>
<rect x="100.9" y="44.9" width="6.1" height="6.1" fill="#2e2e2e"/>
<rect x="130.0" y="44.9" width="6.1" height="6.1" fill="#2e2e2e"/>
<rect x="159.1" y="44.9" width="6.1" height="6.1" fill="#2e2e2e"/>
<text x="63" y="64.0" font-size="10" fill="#111">1995</text>
<line x1="103.9" y1="58.5" x2="162.2" y2="58.5" stroke="#0c0c0c" stroke-width="1.3"/>
<path d="M103.9 55.1 L106.8 59.4 L101.0 59.4 Z" fill="#0c0c0c"/>
<path d="M133.1 55.1 L136.0 59.4 L130.2 59.4 Z" fill="#0c0c0c"/>
<path d="M162.2 55.1 L165.1 59.4 L159.3 59.4 Z" fill="#0c0c0c"/>
<text x="63" y="74.7" font-size="10" fill="#111">1997</text>
<line x1="103.9" y1="69.2" x2="162.2" y2="69.2" stroke="#0c0c0c" stroke-width="1.4"/>
<path d="M103.9 66.1 L107.0 69.2 L103.9 72.3 L100.8 69.2 Z" fill="#0c0c0c"/>
<path d="M133.1 66.1 L136.2 69.2 L133.1 72.3 L130.0 69.2 Z" fill="#0c0c0c"/>
<path d="M162.2 66.1 L165.3 69.2 L162.2 72.3 L159.1 69.2 Z" fill="#0c0c0c"/>
<text x="63" y="85.3" font-size="10" fill="#111">2000</text>
<line x1="103.9" y1="79.8" x2="162.2" y2="79.8" stroke="#585858" stroke-width="1.6" stroke-dasharray="15.5 4"/>
<circle cx="103.9" cy="79.8" r="2.65" fill="none" stroke="#585858" stroke-width="1.4"/>
<circle cx="133.1" cy="79.8" r="2.65" fill="none" stroke="#585858" stroke-width="1.4"/>
<circle cx="162.2" cy="79.8" r="2.65" fill="none" stroke="#585858" stroke-width="1.4"/>
<text x="63" y="96.0" font-size="10" fill="#111">2002</text>
<line x1="103.9" y1="90.5" x2="162.2" y2="90.5" stroke="#585858" stroke-width="1.6" stroke-dasharray="15.5 4"/>
<path d="M103.9 87.9 L106.8 91.4 L101.0 91.4 Z" fill="none" stroke="#585858" stroke-width="1.4"/>
<path d="M133.1 87.9 L136.0 91.4 L130.2 91.4 Z" fill="none" stroke="#585858" stroke-width="1.4"/>
<path d="M162.2 87.9 L165.1 91.4 L159.3 91.4 Z" fill="none" stroke="#585858" stroke-width="1.4"/>
<text x="63" y="106.7" font-size="10" fill="#111">2005</text>
<line x1="103.9" y1="101.2" x2="162.2" y2="101.2" stroke="#585858" stroke-width="1.6" stroke-dasharray="15.5 4"/>
<path d="M101.0 99.2 L106.8 99.2 L103.9 104.8 Z" fill="none" stroke="#585858" stroke-width="1.4"/>
<path d="M130.2 99.2 L136.0 99.2 L133.1 104.8 Z" fill="none" stroke="#585858" stroke-width="1.4"/>
<path d="M159.3 99.2 L165.1 99.2 L162.2 104.8 Z" fill="none" stroke="#585858" stroke-width="1.4"/>
</g>
<g id="panelB">
<text x="1.0" y="277.5" font-size="20" font-weight="bold" fill="#111">B</text>
<text x="84" y="278.6" font-size="17.85" fill="#111">Intermediate Sokal scores</text>
<text x="196" y="297.1" font-size="12.7" fill="#111" text-anchor="middle">(significant effect of year of diagnosis)</text>
<line x1="50.4" y1="444.2" x2="492.2" y2="444.2" stroke="#9a9a9a" stroke-width="1.1" stroke-dasharray="4.3 3.87"/>
<line x1="50.4" y1="417.4" x2="492.2" y2="417.4" stroke="#9a9a9a" stroke-width="1.1" stroke-dasharray="4.3 3.87"/>
<line x1="50.4" y1="390.6" x2="492.2" y2="390.6" stroke="#9a9a9a" stroke-width="1.1" stroke-dasharray="4.3 3.87"/>
<line x1="50.4" y1="363.7" x2="492.2" y2="363.7" stroke="#9a9a9a" stroke-width="1.1" stroke-dasharray="4.3 3.87"/>
<line x1="50.4" y1="336.9" x2="492.2" y2="336.9" stroke="#9a9a9a" stroke-width="1.1" stroke-dasharray="4.3 3.87"/>
<line x1="50.4" y1="310.0" x2="492.2" y2="310.0" stroke="#9a9a9a" stroke-width="1.1" stroke-dasharray="4.3 3.87"/>
<g clip-path="url(#cpB)" fill="none">
<path d="M75.2 444.2 L76.5 444.2 L77.9 444.2 L79.2 444.2 L80.6 444.2 L82.0 444.2 L83.3 444.2 L84.7 444.2 L86.0 444.2 L87.4 444.1 L88.8 444.1 L90.1 444.1 L91.5 444.1 L92.8 444.0 L94.2 443.8 L95.5 443.6 L96.9 443.4 L98.3 443.1 L99.6 442.7 L101.0 442.3 L102.3 441.6 L103.7 440.7 L105.0 439.7 L106.4 438.7 L107.8 437.6 L109.1 436.4 L110.5 435.1 L111.8 433.7 L113.2 432.2 L114.6 430.6 L115.9 429.1 L117.3 427.6 L118.6 425.9 L120.0 424.2 L121.3 422.5 L122.7 421.1 L124.1 419.8 L125.4 418.8 L126.8 417.8 L128.1 416.9 L129.5 416.2 L130.8 415.5 L132.2 415.1 L133.6 414.8 L134.9 414.6 L136.3 414.4 L137.6 414.3 L139.0 414.3 L140.4 414.4 L141.7 414.6 L143.1 414.8 L144.4 415.1 L145.8 415.4 L147.1 415.7 L148.5 416.0 L149.9 416.2 L151.2 416.6 L152.6 416.9 L153.9 417.2 L155.3 417.6 L156.6 418.0 L158.0 418.4 L159.4 418.8 L160.7 419.2 L162.1 419.6 L163.4 419.9 L164.8 420.3 L166.2 420.7 L167.5 421.0 L168.9 421.3 L170.2 421.6 L171.6 421.8 L172.9 422.0 L174.3 422.1 L175.7 422.3 L177.0 422.4 L178.4 422.6 L179.7 422.7 L181.1 422.9 L182.4 423.0 L183.8 423.2 L185.2 423.3 L186.5 423.4 L187.9 423.6 L189.2 423.7 L190.6 423.8 L192.0 423.9 L193.3 424.0 L194.7 424.1 L196.0 424.2 L197.4 424.3 L198.7 424.4 L200.1 424.5 L201.5 424.6 L202.8 424.6 L204.2 424.7 L205.5 424.8 L206.9 424.8 L208.2 424.8 L209.6 424.9 L211.0 424.9 L212.3 424.9 L213.7 424.9 L215.0 424.9 L216.4 424.9 L217.8 424.9 L219.1 424.9 L220.5 424.9 L221.8 424.9 L223.2 424.9 L224.5 424.9 L225.9 424.8 L227.3 424.8 L228.6 424.8 L230.0 424.8 L231.3 424.8 L232.7 424.7 L234.0 424.7 L235.4 424.7 L236.8 424.7 L238.1 424.6 L239.5 424.6 L240.8 424.6 L242.2 424.5 L243.6 424.5 L244.9 424.4 L246.3 424.4 L247.6 424.4 L249.0 424.3 L250.3 424.3 L251.7 424.3 L253.1 424.2 L254.4 424.2 L255.8 424.1 L257.1 424.1 L258.5 424.0 L259.8 423.9 L261.2 423.8 L262.6 423.7 L263.9 423.6 L265.3 423.5 L266.6 423.3 L268.0 423.2 L269.4 423.0 L270.7 422.9 L272.1 422.7 L273.4 422.5 L274.8 422.4 L276.1 422.2 L277.5 422.0 L278.9 421.8 L280.2 421.6 L281.6 421.4 L282.9 421.3 L284.3 421.1 L285.6 420.9 L287.0 420.7 L288.4 420.5 L289.7 420.3 L291.1 420.1 L292.4 419.9 L293.8 419.8 L295.2 419.6 L296.5 419.4 L297.9 419.3 L299.2 419.1 L300.6 418.9 L301.9 418.7 L303.3 418.6 L304.7 418.4 L306.0 418.2 L307.4 418.0 L308.7 417.8 L310.1 417.7 L311.4 417.5 L312.8 417.3 L314.2 417.1 L315.5 416.9 L316.9 416.7 L318.2 416.5 L319.6 416.4 L321.0 416.2 L322.3 416.0 L323.7 415.8 L325.0 415.6 L326.4 415.4 L327.7 415.2 L329.1 415.1 L330.5 414.9 L331.8 414.7 L333.2 414.5 L334.5 414.4 L335.9 414.2 L337.2 414.0 L338.6 413.9 L340.0 413.7 L341.3 413.5 L342.7 413.3 L344.0 413.1 L345.4 412.9 L346.8 412.7 L348.1 412.5 L349.5 412.3 L350.8 412.1 L352.2 411.9 L353.5 411.7 L354.9 411.5 L356.3 411.3 L357.6 411.1 L359.0 410.9 L360.3 410.7 L361.7 410.6 L363.0 410.4 L364.4 410.2 L365.8 410.1 L367.1 410.0 L368.5 409.9 L369.8 409.7 L371.2 409.7 L372.6 409.6 L373.9 409.5 L375.3 409.5 L376.6 409.5 L378.0 409.5 L379.3 409.5 L380.7 409.5 L382.1 409.5 L383.4 409.6 L384.8 409.6 L386.1 409.7 L387.5 409.8 L388.8 409.9 L390.2 410.0 L391.6 410.1 L392.9 410.2 L394.3 410.3 L395.6 410.5 L397.0 410.6 L398.4 410.8 L399.7 410.9 L401.1 411.1 L402.4 411.2 L403.8 411.4 L405.1 411.6 L406.5 411.8 L407.9 411.9 L409.2 412.1 L410.6 412.3 L411.9 412.5 L413.3 412.6 L414.6 412.8 L416.0 413.0 L417.4 413.2 L418.7 413.3 L420.1 413.5 L421.4 413.7 L422.8 413.9 L424.2 414.1 L425.5 414.3 L426.9 414.5 L428.2 414.7 L429.6 414.9 L430.9 415.1 L432.3 415.3 L433.7 415.6 L435.0 415.8 L436.4 416.0 L437.7 416.3 L439.1 416.5 L440.4 416.8 L441.8 417.1 L443.2 417.3 L444.5 417.6 L445.9 417.9 L447.2 418.2 L448.6 418.5 L450.0 418.8 L451.3 419.1 L452.7 419.5 L454.0 419.8 L455.4 420.1 L456.7 420.5 L458.1 420.8 L459.5 421.2 L460.8 421.6 L462.2 422.0 L463.5 422.4 L464.9 422.9 L466.2 423.4 L467.6 423.9 L469.0 424.5 L470.3 425.0 L471.7 425.6 L473.0 426.2 L474.4 426.7 L475.8 427.3" stroke="#2e2e2e" stroke-width="1.7"/>
<path d="M75.2 444.2 L76.5 444.2 L77.9 444.2 L79.2 444.2 L80.6 444.2 L82.0 444.2 L83.3 444.2 L84.7 444.2 L86.0 444.1 L87.4 444.1 L88.8 444.1 L90.1 444.0 L91.5 444.0 L92.8 443.9 L94.2 443.7 L95.5 443.5 L96.9 443.1 L98.3 442.7 L99.6 442.3 L101.0 441.7 L102.3 440.8 L103.7 439.6 L105.0 438.4 L106.4 437.0 L107.8 435.6 L109.1 434.1 L110.5 432.4 L111.8 430.5 L113.2 428.6 L114.6 426.6 L115.9 424.6 L117.3 422.6 L118.6 420.4 L120.0 418.2 L121.3 416.1 L122.7 414.1 L124.1 412.5 L125.4 411.2 L126.8 409.9 L128.1 408.8 L129.5 407.8 L130.8 407.0 L132.2 406.4 L133.6 406.0 L134.9 405.7 L136.3 405.5 L137.6 405.3 L139.0 405.4 L140.4 405.5 L141.7 405.7 L143.1 406.0 L144.4 406.4 L145.8 406.8 L147.1 407.2 L148.5 407.5 L149.9 407.9 L151.2 408.3 L152.6 408.7 L153.9 409.2 L155.3 409.6 L156.6 410.1 L158.0 410.7 L159.4 411.2 L160.7 411.7 L162.1 412.2 L163.4 412.7 L164.8 413.2 L166.2 413.6 L167.5 414.0 L168.9 414.4 L170.2 414.8 L171.6 415.1 L172.9 415.3 L174.3 415.5 L175.7 415.7 L177.0 415.9 L178.4 416.1 L179.7 416.3 L181.1 416.5 L182.4 416.7 L183.8 416.9 L185.2 417.0 L186.5 417.2 L187.9 417.4 L189.2 417.5 L190.6 417.7 L192.0 417.8 L193.3 418.0 L194.7 418.1 L196.0 418.3 L197.4 418.4 L198.7 418.5 L200.1 418.6 L201.5 418.7 L202.8 418.8 L204.2 418.9 L205.5 418.9 L206.9 419.0 L208.2 419.0 L209.6 419.1 L211.0 419.1 L212.3 419.1 L213.7 419.1 L215.0 419.1 L216.4 419.1 L217.8 419.1 L219.1 419.1 L220.5 419.1 L221.8 419.1 L223.2 419.1 L224.5 419.1 L225.9 419.0 L227.3 419.0 L228.6 419.0 L230.0 419.0 L231.3 418.9 L232.7 418.9 L234.0 418.9 L235.4 418.8 L236.8 418.8 L238.1 418.8 L239.5 418.7 L240.8 418.7 L242.2 418.6 L243.6 418.6 L244.9 418.5 L246.3 418.5 L247.6 418.4 L249.0 418.4 L250.3 418.3 L251.7 418.3 L253.1 418.2 L254.4 418.2 L255.8 418.1 L257.1 418.0 L258.5 417.9 L259.8 417.8 L261.2 417.7 L262.6 417.6 L263.9 417.4 L265.3 417.3 L266.6 417.1 L268.0 416.9 L269.4 416.7 L270.7 416.5 L272.1 416.3 L273.4 416.1 L274.8 415.8 L276.1 415.6 L277.5 415.4 L278.9 415.1 L280.2 414.9 L281.6 414.6 L282.9 414.4 L284.3 414.1 L285.6 413.9 L287.0 413.6 L288.4 413.4 L289.7 413.2 L291.1 412.9 L292.4 412.7 L293.8 412.5 L295.2 412.2 L296.5 412.0 L297.9 411.8 L299.2 411.6 L300.6 411.4 L301.9 411.1 L303.3 410.9 L304.7 410.7 L306.0 410.4 L307.4 410.2 L308.7 410.0 L310.1 409.7 L311.4 409.5 L312.8 409.2 L314.2 409.0 L315.5 408.7 L316.9 408.5 L318.2 408.3 L319.6 408.0 L321.0 407.8 L322.3 407.5 L323.7 407.3 L325.0 407.1 L326.4 406.8 L327.7 406.6 L329.1 406.4 L330.5 406.1 L331.8 405.9 L333.2 405.7 L334.5 405.4 L335.9 405.2 L337.2 405.0 L338.6 404.8 L340.0 404.6 L341.3 404.3 L342.7 404.1 L344.0 403.8 L345.4 403.5 L346.8 403.3 L348.1 403.0 L349.5 402.7 L350.8 402.5 L352.2 402.2 L353.5 402.0 L354.9 401.7 L356.3 401.4 L357.6 401.2 L359.0 401.0 L360.3 400.7 L361.7 400.5 L363.0 400.3 L364.4 400.1 L365.8 399.9 L367.1 399.7 L368.5 399.6 L369.8 399.4 L371.2 399.3 L372.6 399.2 L373.9 399.2 L375.3 399.1 L376.6 399.1 L378.0 399.1 L379.3 399.1 L380.7 399.1 L382.1 399.1 L383.4 399.2 L384.8 399.3 L386.1 399.4 L387.5 399.5 L388.8 399.6 L390.2 399.7 L391.6 399.8 L392.9 400.0 L394.3 400.2 L395.6 400.3 L397.0 400.5 L398.4 400.7 L399.7 400.9 L401.1 401.1 L402.4 401.3 L403.8 401.5 L405.1 401.7 L406.5 402.0 L407.9 402.2 L409.2 402.4 L410.6 402.7 L411.9 402.9 L413.3 403.1 L414.6 403.4 L416.0 403.6 L417.4 403.9 L418.7 404.1 L420.1 404.4 L421.4 404.7 L422.8 405.0 L424.2 405.3 L425.5 405.7 L426.9 406.1 L428.2 406.5 L429.6 407.0 L430.9 407.4 L432.3 407.9 L433.7 408.3 L435.0 408.8 L436.4 409.3 L437.7 409.9 L439.1 410.4 L440.4 410.9 L441.8 411.4 L443.2 412.0 L444.5 412.5 L445.9 413.0 L447.2 413.5 L448.6 414.1 L450.0 414.6 L451.3 415.1 L452.7 415.6 L454.0 416.1 L455.4 416.6 L456.7 417.0 L458.1 417.5 L459.5 417.9 L460.8 418.3 L462.2 418.7 L463.5 419.1 L464.9 419.6 L466.2 420.0 L467.6 420.3 L469.0 420.7 L470.3 421.1 L471.7 421.5 L473.0 421.9 L474.4 422.3 L475.8 422.7" stroke="#0c0c0c" stroke-width="1.3"/>
<path d="M75.2 444.2 L76.5 444.2 L77.9 444.2 L79.2 444.2 L80.6 444.2 L82.0 444.2 L83.3 444.2 L84.7 444.2 L86.0 444.1 L87.4 444.1 L88.8 444.1 L90.1 444.0 L91.5 444.0 L92.8 443.9 L94.2 443.7 L95.5 443.4 L96.9 443.0 L98.3 442.6 L99.6 442.1 L101.0 441.5 L102.3 440.5 L103.7 439.3 L105.0 437.9 L106.4 436.5 L107.8 435.0 L109.1 433.4 L110.5 431.5 L111.8 429.6 L113.2 427.5 L114.6 425.3 L115.9 423.2 L117.3 421.1 L118.6 418.8 L120.0 416.4 L121.3 414.1 L122.7 412.0 L124.1 410.3 L125.4 408.9 L126.8 407.6 L128.1 406.3 L129.5 405.2 L130.8 404.4 L132.2 403.8 L133.6 403.4 L134.9 403.0 L136.3 402.8 L137.6 402.6 L139.0 402.7 L140.4 402.8 L141.7 403.1 L143.1 403.4 L144.4 403.8 L145.8 404.2 L147.1 404.6 L148.5 405.0 L149.9 405.4 L151.2 405.8 L152.6 406.2 L153.9 406.7 L155.3 407.2 L156.6 407.8 L158.0 408.3 L159.4 408.9 L160.7 409.4 L162.1 410.0 L163.4 410.5 L164.8 411.0 L166.2 411.5 L167.5 411.9 L168.9 412.4 L170.2 412.7 L171.6 413.1 L172.9 413.3 L174.3 413.5 L175.7 413.8 L177.0 414.0 L178.4 414.2 L179.7 414.4 L181.1 414.6 L182.4 414.8 L183.8 415.0 L185.2 415.2 L186.5 415.3 L187.9 415.5 L189.2 415.7 L190.6 415.8 L192.0 416.0 L193.3 416.2 L194.7 416.3 L196.0 416.4 L197.4 416.6 L198.7 416.7 L200.1 416.8 L201.5 416.9 L202.8 417.0 L204.2 417.1 L205.5 417.2 L206.9 417.2 L208.2 417.3 L209.6 417.3 L211.0 417.4 L212.3 417.4 L213.7 417.4 L215.0 417.4 L216.4 417.4 L217.8 417.4 L219.1 417.4 L220.5 417.4 L221.8 417.4 L223.2 417.3 L224.5 417.3 L225.9 417.3 L227.3 417.3 L228.6 417.2 L230.0 417.2 L231.3 417.2 L232.7 417.1 L234.0 417.1 L235.4 417.1 L236.8 417.0 L238.1 417.0 L239.5 416.9 L240.8 416.9 L242.2 416.8 L243.6 416.8 L244.9 416.7 L246.3 416.7 L247.6 416.6 L249.0 416.6 L250.3 416.5 L251.7 416.5 L253.1 416.4 L254.4 416.4 L255.8 416.3 L257.1 416.2 L258.5 416.1 L259.8 416.0 L261.2 415.9 L262.6 415.7 L263.9 415.6 L265.3 415.4 L266.6 415.2 L268.0 415.0 L269.4 414.8 L270.7 414.6 L272.1 414.3 L273.4 414.1 L274.8 413.9 L276.1 413.6 L277.5 413.4 L278.9 413.1 L280.2 412.8 L281.6 412.6 L282.9 412.3 L284.3 412.1 L285.6 411.8 L287.0 411.5 L288.4 411.3 L289.7 411.0 L291.1 410.7 L292.4 410.5 L293.8 410.2 L295.2 410.0 L296.5 409.8 L297.9 409.5 L299.2 409.3 L300.6 409.1 L301.9 408.8 L303.3 408.6 L304.7 408.3 L306.0 408.1 L307.4 407.8 L308.7 407.6 L310.1 407.3 L311.4 407.1 L312.8 406.8 L314.2 406.5 L315.5 406.3 L316.9 406.0 L318.2 405.8 L319.6 405.5 L321.0 405.2 L322.3 405.0 L323.7 404.7 L325.0 404.5 L326.4 404.2 L327.7 404.0 L329.1 403.7 L330.5 403.5 L331.8 403.2 L333.2 403.0 L334.5 402.8 L335.9 402.5 L337.2 402.3 L338.6 402.0 L340.0 401.8 L341.3 401.5 L342.7 401.3 L344.0 401.0 L345.4 400.7 L346.8 400.4 L348.1 400.1 L349.5 399.9 L350.8 399.6 L352.2 399.3 L353.5 399.0 L354.9 398.7 L356.3 398.5 L357.6 398.2 L359.0 397.9 L360.3 397.7 L361.7 397.5 L363.0 397.2 L364.4 397.0 L365.8 396.8 L367.1 396.6 L368.5 396.5 L369.8 396.3 L371.2 396.2 L372.6 396.1 L373.9 396.0 L375.3 396.0 L376.6 395.9 L378.0 395.9 L379.3 395.9 L380.7 396.0 L382.1 396.0 L383.4 396.1 L384.8 396.2 L386.1 396.2 L387.5 396.4 L388.8 396.5 L390.2 396.6 L391.6 396.8 L392.9 396.9 L394.3 397.1 L395.6 397.3 L397.0 397.5 L398.4 397.7 L399.7 397.9 L401.1 398.1 L402.4 398.3 L403.8 398.5 L405.1 398.8 L406.5 399.0 L407.9 399.3 L409.2 399.5 L410.6 399.8 L411.9 400.0 L413.3 400.3 L414.6 400.5 L416.0 400.8 L417.4 401.1 L418.7 401.3 L420.1 401.6 L421.4 401.9 L422.8 402.3 L424.2 402.6 L425.5 403.0 L426.9 403.5 L428.2 403.9 L429.6 404.4 L430.9 404.8 L432.3 405.3 L433.7 405.8 L435.0 406.4 L436.4 406.9 L437.7 407.5 L439.1 408.0 L440.4 408.6 L441.8 409.1 L443.2 409.7 L444.5 410.3 L445.9 410.8 L447.2 411.4 L448.6 412.0 L450.0 412.5 L451.3 413.1 L452.7 413.6 L454.0 414.1 L455.4 414.6 L456.7 415.1 L458.1 415.6 L459.5 416.1 L460.8 416.5 L462.2 417.0 L463.5 417.4 L464.9 417.8 L466.2 418.3 L467.6 418.7 L469.0 419.1 L470.3 419.5 L471.7 419.9 L473.0 420.3 L474.4 420.8 L475.8 421.2" stroke="#0c0c0c" stroke-width="1.4"/>
<path d="M75.2 444.2 L76.5 444.2 L77.9 444.2 L79.2 444.2 L80.6 444.2 L82.0 444.2 L83.3 444.2 L84.7 444.2 L86.0 444.2 L87.4 444.2 L88.8 444.2 L90.1 444.1 L91.5 444.1 L92.8 444.1 L94.2 444.0 L95.5 443.8 L96.9 443.7 L98.3 443.5 L99.6 443.2 L101.0 442.9 L102.3 442.5 L103.7 441.9 L105.0 441.2 L106.4 440.5 L107.8 439.8 L109.1 439.0 L110.5 438.2 L111.8 437.2 L113.2 436.2 L114.6 435.2 L115.9 434.2 L117.3 433.1 L118.6 432.0 L120.0 430.9 L121.3 429.8 L122.7 428.8 L124.1 428.0 L125.4 427.3 L126.8 426.6 L128.1 426.0 L129.5 425.5 L130.8 425.1 L132.2 424.8 L133.6 424.6 L134.9 424.5 L136.3 424.3 L137.6 424.3 L139.0 424.3 L140.4 424.4 L141.7 424.5 L143.1 424.6 L144.4 424.8 L145.8 425.0 L147.1 425.2 L148.5 425.4 L149.9 425.6 L151.2 425.8 L152.6 426.0 L153.9 426.2 L155.3 426.5 L156.6 426.7 L158.0 427.0 L159.4 427.3 L160.7 427.5 L162.1 427.8 L163.4 428.0 L164.8 428.3 L166.2 428.5 L167.5 428.7 L168.9 428.9 L170.2 429.1 L171.6 429.3 L172.9 429.4 L174.3 429.5 L175.7 429.6 L177.0 429.7 L178.4 429.8 L179.7 429.9 L181.1 430.0 L182.4 430.1 L183.8 430.2 L185.2 430.3 L186.5 430.4 L187.9 430.5 L189.2 430.5 L190.6 430.6 L192.0 430.7 L193.3 430.8 L194.7 430.8 L196.0 430.9 L197.4 431.0 L198.7 431.0 L200.1 431.1 L201.5 431.1 L202.8 431.2 L204.2 431.2 L205.5 431.3 L206.9 431.3 L208.2 431.3 L209.6 431.3 L211.0 431.3 L212.3 431.4 L213.7 431.4 L215.0 431.4 L216.4 431.4 L217.8 431.4 L219.1 431.4 L220.5 431.3 L221.8 431.3 L223.2 431.3 L224.5 431.3 L225.9 431.3 L227.3 431.3 L228.6 431.3 L230.0 431.3 L231.3 431.3 L232.7 431.2 L234.0 431.2 L235.4 431.2 L236.8 431.2 L238.1 431.2 L239.5 431.1 L240.8 431.1 L242.2 431.1 L243.6 431.1 L244.9 431.0 L246.3 431.0 L247.6 431.0 L249.0 431.0 L250.3 430.9 L251.7 430.9 L253.1 430.9 L254.4 430.9 L255.8 430.8 L257.1 430.8 L258.5 430.7 L259.8 430.7 L261.2 430.6 L262.6 430.6 L263.9 430.5 L265.3 430.4 L266.6 430.3 L268.0 430.2 L269.4 430.1 L270.7 430.0 L272.1 429.9 L273.4 429.8 L274.8 429.7 L276.1 429.5 L277.5 429.4 L278.9 429.3 L280.2 429.2 L281.6 429.0 L282.9 428.9 L284.3 428.8 L285.6 428.7 L287.0 428.5 L288.4 428.4 L289.7 428.3 L291.1 428.2 L292.4 428.0 L293.8 427.9 L295.2 427.8 L296.5 427.7 L297.9 427.6 L299.2 427.5 L300.6 427.4 L301.9 427.2 L303.3 427.1 L304.7 427.0 L306.0 426.9 L307.4 426.8 L308.7 426.6 L310.1 426.5 L311.4 426.4 L312.8 426.3 L314.2 426.1 L315.5 426.0 L316.9 425.9 L318.2 425.8 L319.6 425.7 L321.0 425.5 L322.3 425.4 L323.7 425.3 L325.0 425.2 L326.4 425.0 L327.7 424.9 L329.1 424.8 L330.5 424.7 L331.8 424.6 L333.2 424.4 L334.5 424.3 L335.9 424.2 L337.2 424.1 L338.6 424.0 L340.0 423.9 L341.3 423.7 L342.7 423.6 L344.0 423.5 L345.4 423.4 L346.8 423.2 L348.1 423.1 L349.5 422.9 L350.8 422.8 L352.2 422.7 L353.5 422.5 L354.9 422.4 L356.3 422.3 L357.6 422.1 L359.0 422.0 L360.3 421.9 L361.7 421.8 L363.0 421.7 L364.4 421.6 L365.8 421.5 L367.1 421.4 L368.5 421.3 L369.8 421.2 L371.2 421.2 L372.6 421.1 L373.9 421.1 L375.3 421.1 L376.6 421.1 L378.0 421.1 L379.3 421.1 L380.7 421.1 L382.1 421.1 L383.4 421.1 L384.8 421.2 L386.1 421.2 L387.5 421.3 L388.8 421.3 L390.2 421.4 L391.6 421.5 L392.9 421.5 L394.3 421.6 L395.6 421.7 L397.0 421.8 L398.4 421.9 L399.7 422.0 L401.1 422.1 L402.4 422.2 L403.8 422.3 L405.1 422.4 L406.5 422.5 L407.9 422.7 L409.2 422.8 L410.6 422.9 L411.9 423.0 L413.3 423.1 L414.6 423.3 L416.0 423.4 L417.4 423.5 L418.7 423.6 L420.1 423.8 L421.4 423.9 L422.8 424.1 L424.2 424.3 L425.5 424.5 L426.9 424.7 L428.2 424.9 L429.6 425.1 L430.9 425.3 L432.3 425.6 L433.7 425.8 L435.0 426.1 L436.4 426.3 L437.7 426.6 L439.1 426.9 L440.4 427.1 L441.8 427.4 L443.2 427.7 L444.5 427.9 L445.9 428.2 L447.2 428.5 L448.6 428.8 L450.0 429.0 L451.3 429.3 L452.7 429.5 L454.0 429.8 L455.4 430.0 L456.7 430.3 L458.1 430.5 L459.5 430.7 L460.8 430.9 L462.2 431.2 L463.5 431.4 L464.9 431.6 L466.2 431.8 L467.6 432.0 L469.0 432.2 L470.3 432.4 L471.7 432.6 L473.0 432.8 L474.4 433.0 L475.8 433.2" stroke="#585858" stroke-width="1.6" stroke-dasharray="15.5 4"/>
<path d="M75.2 444.2 L76.5 444.2 L77.9 444.2 L79.2 444.2 L80.6 444.2 L82.0 444.2 L83.3 444.2 L84.7 444.2 L86.0 444.2 L87.4 444.2 L88.8 444.2 L90.1 444.1 L91.5 444.1 L92.8 444.1 L94.2 444.0 L95.5 443.9 L96.9 443.8 L98.3 443.6 L99.6 443.4 L101.0 443.2 L102.3 443.0 L103.7 442.8 L105.0 442.6 L106.4 442.3 L107.8 442.1 L109.1 441.9 L110.5 441.6 L111.8 441.3 L113.2 441.0 L114.6 440.7 L115.9 440.3 L117.3 440.0 L118.6 439.7 L120.0 439.4 L121.3 439.1 L122.7 438.8 L124.1 438.6 L125.4 438.5 L126.8 438.3 L128.1 438.1 L129.5 438.0 L130.8 437.9 L132.2 437.8 L133.6 437.8 L134.9 437.8 L136.3 437.8 L137.6 437.8 L139.0 437.9 L140.4 437.9 L141.7 437.9 L143.1 437.9 L144.4 438.0 L145.8 438.0 L147.1 438.0 L148.5 438.1 L149.9 438.1 L151.2 438.2 L152.6 438.2 L153.9 438.3 L155.3 438.3 L156.6 438.4 L158.0 438.4 L159.4 438.5 L160.7 438.5 L162.1 438.5 L163.4 438.6 L164.8 438.6 L166.2 438.7 L167.5 438.7 L168.9 438.8 L170.2 438.8 L171.6 438.8 L172.9 438.9 L174.3 438.9 L175.7 438.9 L177.0 439.0 L178.4 439.0 L179.7 439.0 L181.1 439.1 L182.4 439.1 L183.8 439.1 L185.2 439.2 L186.5 439.2 L187.9 439.3 L189.2 439.3 L190.6 439.3 L192.0 439.4 L193.3 439.4 L194.7 439.4 L196.0 439.5 L197.4 439.5 L198.7 439.5 L200.1 439.5 L201.5 439.6 L202.8 439.6 L204.2 439.6 L205.5 439.6 L206.9 439.6 L208.2 439.7 L209.6 439.7 L211.0 439.7 L212.3 439.7 L213.7 439.7 L215.0 439.7 L216.4 439.7 L217.8 439.7 L219.1 439.7 L220.5 439.7 L221.8 439.7 L223.2 439.7 L224.5 439.7 L225.9 439.7 L227.3 439.6 L228.6 439.6 L230.0 439.6 L231.3 439.6 L232.7 439.6 L234.0 439.6 L235.4 439.6 L236.8 439.6 L238.1 439.6 L239.5 439.6 L240.8 439.6 L242.2 439.5 L243.6 439.5 L244.9 439.5 L246.3 439.5 L247.6 439.5 L249.0 439.5 L250.3 439.5 L251.7 439.4 L253.1 439.4 L254.4 439.4 L255.8 439.4 L257.1 439.4 L258.5 439.4 L259.8 439.4 L261.2 439.3 L262.6 439.3 L263.9 439.3 L265.3 439.3 L266.6 439.3 L268.0 439.3 L269.4 439.2 L270.7 439.2 L272.1 439.2 L273.4 439.2 L274.8 439.1 L276.1 439.1 L277.5 439.1 L278.9 439.1 L280.2 439.0 L281.6 439.0 L282.9 439.0 L284.3 438.9 L285.6 438.9 L287.0 438.9 L288.4 438.8 L289.7 438.8 L291.1 438.8 L292.4 438.7 L293.8 438.7 L295.2 438.6 L296.5 438.6 L297.9 438.5 L299.2 438.5 L300.6 438.4 L301.9 438.3 L303.3 438.2 L304.7 438.1 L306.0 438.0 L307.4 437.9 L308.7 437.8 L310.1 437.6 L311.4 437.5 L312.8 437.4 L314.2 437.2 L315.5 437.1 L316.9 436.9 L318.2 436.8 L319.6 436.7 L321.0 436.5 L322.3 436.4 L323.7 436.3 L325.0 436.1 L326.4 436.0 L327.7 435.9 L329.1 435.8 L330.5 435.7 L331.8 435.6 L333.2 435.5 L334.5 435.5 L335.9 435.4 L337.2 435.4 L338.6 435.3 L340.0 435.3 L341.3 435.2 L342.7 435.2 L344.0 435.2 L345.4 435.1 L346.8 435.1 L348.1 435.1 L349.5 435.0 L350.8 435.0 L352.2 434.9 L353.5 434.9 L354.9 434.9 L356.3 434.8 L357.6 434.8 L359.0 434.8 L360.3 434.8 L361.7 434.7 L363.0 434.7 L364.4 434.7 L365.8 434.7 L367.1 434.7 L368.5 434.6 L369.8 434.6 L371.2 434.6 L372.6 434.6 L373.9 434.6 L375.3 434.6 L376.6 434.6 L378.0 434.6 L379.3 434.6 L380.7 434.6 L382.1 434.6 L383.4 434.6 L384.8 434.6 L386.1 434.6 L387.5 434.6 L388.8 434.7 L390.2 434.7 L391.6 434.7 L392.9 434.7 L394.3 434.7 L395.6 434.8 L397.0 434.8 L398.4 434.8 L399.7 434.9 L401.1 434.9 L402.4 434.9 L403.8 435.0 L405.1 435.0 L406.5 435.0 L407.9 435.1 L409.2 435.1 L410.6 435.1 L411.9 435.2 L413.3 435.2 L414.6 435.3 L416.0 435.3 L417.4 435.4 L418.7 435.4 L420.1 435.4 L421.4 435.5 L422.8 435.6 L424.2 435.6 L425.5 435.7 L426.9 435.8 L428.2 435.9 L429.6 436.0 L430.9 436.1 L432.3 436.2 L433.7 436.3 L435.0 436.4 L436.4 436.5 L437.7 436.6 L439.1 436.8 L440.4 436.9 L441.8 437.0 L443.2 437.1 L444.5 437.3 L445.9 437.4 L447.2 437.5 L448.6 437.6 L450.0 437.8 L451.3 437.9 L452.7 438.0 L454.0 438.2 L455.4 438.3 L456.7 438.4 L458.1 438.5 L459.5 438.6 L460.8 438.7 L462.2 438.8 L463.5 438.9 L464.9 439.1 L466.2 439.2 L467.6 439.3 L469.0 439.4 L470.3 439.5 L471.7 439.6 L473.0 439.7 L474.4 439.8 L475.8 440.0" stroke="#585858" stroke-width="1.6" stroke-dasharray="15.5 4"/>
<path d="M75.2 444.2 L76.5 444.2 L77.9 444.2 L79.2 444.2 L80.6 444.2 L82.0 444.2 L83.3 444.2 L84.7 444.2 L86.0 444.2 L87.4 444.2 L88.7 444.2 L90.1 444.2 L91.4 444.2 L92.8 444.2 L94.2 444.2 L95.5 444.2 L96.9 444.2 L98.2 444.1 L99.6 444.1 L100.9 444.0 L102.3 443.9 L103.7 443.9 L105.0 443.8 L106.4 443.7 L107.7 443.6 L109.1 443.6 L110.4 443.5 L111.8 443.4 L113.1 443.3 L114.5 443.3 L115.9 443.2 L117.2 443.1 L118.6 443.0 L119.9 443.0 L121.3 442.9 L122.6 442.8 L124.0 442.7 L125.4 442.6 L126.7 442.5 L128.1 442.5 L129.4 442.4 L130.8 442.4 L132.1 442.4 L133.5 442.4 L134.8 442.4 L136.2 442.4 L137.6 442.4 L138.9 442.4 L140.3 442.5 L141.6 442.5 L143.0 442.5 L144.3 442.6 L145.7 442.6 L147.0 442.7 L148.4 442.7 L149.8 442.7 L151.1 442.8 L152.5 442.8 L153.8 442.9 L155.2 442.9 L156.5 443.0 L157.9 443.0 L159.3 443.1 L160.6 443.1 L162.0 443.2 L163.3 443.2 L164.7 443.3 L166.0 443.3 L167.4 443.3 L168.7 443.4 L170.1 443.4 L171.5 443.4 L172.8 443.4 L174.2 443.5 L175.5 443.5 L176.9 443.5 L178.2 443.5 L179.6 443.5 L180.9 443.5 L182.3 443.5 L183.7 443.5 L185.0 443.5 L186.4 443.6 L187.7 443.6 L189.1 443.6 L190.4 443.6 L191.8 443.6 L193.2 443.6 L194.5 443.6 L195.9 443.6 L197.2 443.6 L198.6 443.6 L199.9 443.6 L201.3 443.6 L202.6 443.6 L204.0 443.7 L205.4 443.7 L206.7 443.7 L208.1 443.7 L209.4 443.7 L210.8 443.7 L212.1 443.7 L213.5 443.7 L214.9 443.7 L216.2 443.7 L217.6 443.7 L218.9 443.7 L220.3 443.8 L221.6 443.8 L223.0 443.8 L224.3 443.8 L225.7 443.8 L227.1 443.8 L228.4 443.8 L229.8 443.8 L231.1 443.8 L232.5 443.8 L233.8 443.8 L235.2 443.9 L236.5 443.9 L237.9 443.9 L239.3 443.9 L240.6 443.9 L242.0 443.9 L243.3 443.9 L244.7 443.9 L246.0 443.9 L247.4 443.9 L248.8 443.9 L250.1 443.9 L251.5 444.0 L252.8 444.0 L254.2 444.0 L255.5 444.0 L256.9 444.0 L258.2 444.0 L259.6 444.0 L261.0 444.0 L262.3 444.0 L263.7 444.0 L265.0 444.1 L266.4 444.1 L267.7 444.1 L269.1 444.1 L270.5 444.1 L271.8 444.1 L273.2 444.1 L274.5 444.1 L275.9 444.2 L277.2 444.2 L278.6 444.2 L279.9 444.2 L281.3 444.2 L282.7 444.2 L284.0 444.2 L285.4 444.2 L286.7 444.2 L288.1 444.2 L289.4 444.2 L290.8 444.2 L292.1 444.2 L293.5 444.2 L294.9 444.2 L296.2 444.2 L297.6 444.2 L298.9 444.2 L300.3 444.2 L301.6 444.2 L303.0 444.2 L304.4 444.2 L305.7 444.2" stroke="#585858" stroke-width="1.6" stroke-dasharray="15.5 4"/>
</g>
<g>
<rect x="86.7" y="439.3" width="9.6" height="9.6" fill="#2e2e2e"/>
<rect x="127.6" y="410.3" width="9.6" height="9.6" fill="#2e2e2e"/>
<rect x="168.5" y="417.2" width="9.6" height="9.6" fill="#2e2e2e"/>
<rect x="209.3" y="420.1" width="9.6" height="9.6" fill="#2e2e2e"/>
<rect x="250.2" y="419.3" width="9.6" height="9.6" fill="#2e2e2e"/>
<rect x="291.1" y="414.7" width="9.6" height="9.6" fill="#2e2e2e"/>
<rect x="332.0" y="409.3" width="9.6" height="9.6" fill="#2e2e2e"/>
<rect x="372.8" y="404.7" width="9.6" height="9.6" fill="#2e2e2e"/>
<rect x="413.7" y="408.5" width="9.6" height="9.6" fill="#2e2e2e"/>
<rect x="454.6" y="416.4" width="9.6" height="9.6" fill="#2e2e2e"/>
<path d="M91.5 439.2 L96.1 446.5 L86.9 446.5 Z" fill="#0c0c0c"/>
<path d="M132.4 401.5 L137.0 408.8 L127.8 408.8 Z" fill="#0c0c0c"/>
<path d="M173.3 410.6 L177.9 417.9 L168.7 417.9 Z" fill="#0c0c0c"/>
<path d="M214.2 414.3 L218.8 421.6 L209.6 421.6 Z" fill="#0c0c0c"/>
<path d="M255.0 413.3 L259.6 420.6 L250.4 420.6 Z" fill="#0c0c0c"/>
<path d="M295.9 407.3 L300.5 414.6 L291.3 414.6 Z" fill="#0c0c0c"/>
<path d="M336.8 400.3 L341.4 407.6 L332.2 407.6 Z" fill="#0c0c0c"/>
<path d="M377.6 394.3 L382.2 401.6 L373.0 401.6 Z" fill="#0c0c0c"/>
<path d="M418.5 399.3 L423.1 406.6 L413.9 406.6 Z" fill="#0c0c0c"/>
<path d="M459.4 413.1 L464.0 420.4 L454.8 420.4 Z" fill="#0c0c0c"/>
<path d="M91.5 439.1 L96.4 444.0 L91.5 448.9 L86.6 444.0 Z" fill="#0c0c0c"/>
<path d="M132.4 398.8 L137.3 403.7 L132.4 408.6 L127.5 403.7 Z" fill="#0c0c0c"/>
<path d="M173.3 408.5 L178.2 413.4 L173.3 418.3 L168.4 413.4 Z" fill="#0c0c0c"/>
<path d="M214.2 412.5 L219.1 417.4 L214.2 422.3 L209.2 417.4 Z" fill="#0c0c0c"/>
<path d="M255.0 411.4 L259.9 416.3 L255.0 421.2 L250.1 416.3 Z" fill="#0c0c0c"/>
<path d="M295.9 405.0 L300.8 409.9 L295.9 414.8 L291.0 409.9 Z" fill="#0c0c0c"/>
<path d="M336.8 397.5 L341.7 402.4 L336.8 407.3 L331.9 402.4 Z" fill="#0c0c0c"/>
<path d="M377.6 391.0 L382.5 395.9 L377.6 400.8 L372.8 395.9 Z" fill="#0c0c0c"/>
<path d="M418.5 396.4 L423.4 401.3 L418.5 406.2 L413.6 401.3 Z" fill="#0c0c0c"/>
<path d="M459.4 411.2 L464.3 416.1 L459.4 421.0 L454.5 416.1 Z" fill="#0c0c0c"/>
<circle cx="91.5" cy="444.1" r="4.55" fill="none" stroke="#585858" stroke-width="1.4"/>
<circle cx="132.4" cy="424.8" r="4.55" fill="none" stroke="#585858" stroke-width="1.4"/>
<circle cx="173.3" cy="429.4" r="4.55" fill="none" stroke="#585858" stroke-width="1.4"/>
<circle cx="214.2" cy="431.4" r="4.55" fill="none" stroke="#585858" stroke-width="1.4"/>
<circle cx="255.0" cy="430.8" r="4.55" fill="none" stroke="#585858" stroke-width="1.4"/>
<circle cx="295.9" cy="427.8" r="4.55" fill="none" stroke="#585858" stroke-width="1.4"/>
<circle cx="336.8" cy="424.1" r="4.55" fill="none" stroke="#585858" stroke-width="1.4"/>
<circle cx="377.6" cy="421.1" r="4.55" fill="none" stroke="#585858" stroke-width="1.4"/>
<circle cx="418.5" cy="423.6" r="4.55" fill="none" stroke="#585858" stroke-width="1.4"/>
<circle cx="459.4" cy="430.7" r="4.55" fill="none" stroke="#585858" stroke-width="1.4"/>
<path d="M91.5 440.4 L96.3 446.4 L86.7 446.4 Z" fill="none" stroke="#585858" stroke-width="1.4"/>
<path d="M132.4 434.1 L137.2 440.1 L127.6 440.1 Z" fill="none" stroke="#585858" stroke-width="1.4"/>
<path d="M173.3 435.2 L178.1 441.2 L168.5 441.2 Z" fill="none" stroke="#585858" stroke-width="1.4"/>
<path d="M214.2 436.0 L219.0 442.0 L209.3 442.0 Z" fill="none" stroke="#585858" stroke-width="1.4"/>
<path d="M255.0 435.7 L259.8 441.7 L250.2 441.7 Z" fill="none" stroke="#585858" stroke-width="1.4"/>
<path d="M295.9 434.9 L300.7 440.9 L291.1 440.9 Z" fill="none" stroke="#585858" stroke-width="1.4"/>
<path d="M336.8 431.7 L341.6 437.7 L332.0 437.7 Z" fill="none" stroke="#585858" stroke-width="1.4"/>
<path d="M377.6 430.9 L382.4 436.9 L372.8 436.9 Z" fill="none" stroke="#585858" stroke-width="1.4"/>
<path d="M418.5 431.7 L423.3 437.7 L413.7 437.7 Z" fill="none" stroke="#585858" stroke-width="1.4"/>
<path d="M459.4 434.9 L464.2 440.9 L454.6 440.9 Z" fill="none" stroke="#585858" stroke-width="1.4"/>
<path d="M86.7 440.9 L96.3 440.9 L91.5 449.2 Z" fill="none" stroke="#585858" stroke-width="1.4"/>
<path d="M127.6 439.1 L137.2 439.1 L132.4 447.4 Z" fill="none" stroke="#585858" stroke-width="1.4"/>
<path d="M168.5 440.1 L178.1 440.1 L173.3 448.4 Z" fill="none" stroke="#585858" stroke-width="1.4"/>
<path d="M209.3 440.4 L219.0 440.4 L214.2 448.7 Z" fill="none" stroke="#585858" stroke-width="1.4"/>
<path d="M250.2 440.7 L259.8 440.7 L255.0 449.0 Z" fill="none" stroke="#585858" stroke-width="1.4"/>
<path d="M291.1 440.9 L300.7 440.9 L295.9 449.2 Z" fill="none" stroke="#585858" stroke-width="1.4"/>
</g>
<rect x="50.4" y="304.6" width="441.8" height="145.1" fill="none" stroke="#0a0a0a" stroke-width="1.55"/>
<line x1="67.0" y1="449.6" x2="67.0" y2="452.8" stroke="#111" stroke-width="1.2"/>
<text x="67.0" y="475.9" font-size="12.7" fill="#111" text-anchor="middle">0</text>
<line x1="148.8" y1="449.6" x2="148.8" y2="452.8" stroke="#111" stroke-width="1.2"/>
<text x="148.8" y="475.9" font-size="12.7" fill="#111" text-anchor="middle">1</text>
<line x1="230.5" y1="449.6" x2="230.5" y2="452.8" stroke="#111" stroke-width="1.2"/>
<text x="230.5" y="475.9" font-size="12.7" fill="#111" text-anchor="middle">2</text>
<line x1="312.2" y1="449.6" x2="312.2" y2="452.8" stroke="#111" stroke-width="1.2"/>
<text x="312.2" y="475.9" font-size="12.7" fill="#111" text-anchor="middle">3</text>
<line x1="394.0" y1="449.6" x2="394.0" y2="452.8" stroke="#111" stroke-width="1.2"/>
<text x="394.0" y="475.9" font-size="12.7" fill="#111" text-anchor="middle">4</text>
<line x1="475.8" y1="449.6" x2="475.8" y2="452.8" stroke="#111" stroke-width="1.2"/>
<text x="475.8" y="475.9" font-size="12.7" fill="#111" text-anchor="middle">5</text>
<line x1="47.2" y1="444.2" x2="50.4" y2="444.2" stroke="#111" stroke-width="1.2"/>
<line x1="492.2" y1="444.2" x2="495.4" y2="444.2" stroke="#111" stroke-width="1.2"/>
<text transform="translate(37.6 444.2) rotate(-90)" font-size="12.7" fill="#111" text-anchor="middle">0.0</text>
<text transform="translate(518.6 444.2) rotate(-90)" font-size="12.7" fill="#111" text-anchor="middle">0.0</text>
<line x1="47.2" y1="417.4" x2="50.4" y2="417.4" stroke="#111" stroke-width="1.2"/>
<line x1="492.2" y1="417.4" x2="495.4" y2="417.4" stroke="#111" stroke-width="1.2"/>
<line x1="47.2" y1="390.6" x2="50.4" y2="390.6" stroke="#111" stroke-width="1.2"/>
<line x1="492.2" y1="390.6" x2="495.4" y2="390.6" stroke="#111" stroke-width="1.2"/>
<text transform="translate(37.6 390.6) rotate(-90)" font-size="12.7" fill="#111" text-anchor="middle">0.2</text>
<text transform="translate(518.6 390.6) rotate(-90)" font-size="12.7" fill="#111" text-anchor="middle">0.2</text>
<line x1="47.2" y1="363.7" x2="50.4" y2="363.7" stroke="#111" stroke-width="1.2"/>
<line x1="492.2" y1="363.7" x2="495.4" y2="363.7" stroke="#111" stroke-width="1.2"/>
<line x1="47.2" y1="336.9" x2="50.4" y2="336.9" stroke="#111" stroke-width="1.2"/>
<line x1="492.2" y1="336.9" x2="495.4" y2="336.9" stroke="#111" stroke-width="1.2"/>
<text transform="translate(37.6 336.9) rotate(-90)" font-size="12.7" fill="#111" text-anchor="middle">0.4</text>
<text transform="translate(518.6 336.9) rotate(-90)" font-size="12.7" fill="#111" text-anchor="middle">0.4</text>
<line x1="47.2" y1="310.0" x2="50.4" y2="310.0" stroke="#111" stroke-width="1.2"/>
<line x1="492.2" y1="310.0" x2="495.4" y2="310.0" stroke="#111" stroke-width="1.2"/>
<text x="270.6" y="501.2" font-size="12.7" fill="#111" text-anchor="middle">Time since diagnosis (year)</text>
<text transform="translate(12.2 377.6) rotate(-90)" font-size="12.7" fill="#111" text-anchor="middle">Excess mortality rate</text>
<rect x="55.0" y="305.5" width="115.0" height="68.5" fill="#fff" stroke="#0a0a0a" stroke-width="1.55"/>
<text x="63" y="318.0" font-size="10" fill="#111">1990</text>
<line x1="103.9" y1="312.5" x2="162.2" y2="312.5" stroke="#2e2e2e" stroke-width="1.7"/>
<rect x="100.9" y="309.5" width="6.1" height="6.1" fill="#2e2e2e"/>
<rect x="130.0" y="309.5" width="6.1" height="6.1" fill="#2e2e2e"/>
<rect x="159.1" y="309.5" width="6.1" height="6.1" fill="#2e2e2e"/>
<text x="63" y="328.7" font-size="10" fill="#111">1995</text>
<line x1="103.9" y1="323.2" x2="162.2" y2="323.2" stroke="#0c0c0c" stroke-width="1.3"/>
<path d="M103.9 319.8 L106.8 324.1 L101.0 324.1 Z" fill="#0c0c0c"/>
<path d="M133.1 319.8 L136.0 324.1 L130.2 324.1 Z" fill="#0c0c0c"/>
<path d="M162.2 319.8 L165.1 324.1 L159.3 324.1 Z" fill="#0c0c0c"/>
<text x="63" y="339.3" font-size="10" fill="#111">1997</text>
<line x1="103.9" y1="333.8" x2="162.2" y2="333.8" stroke="#0c0c0c" stroke-width="1.4"/>
<path d="M103.9 330.7 L107.0 333.8 L103.9 336.9 L100.8 333.8 Z" fill="#0c0c0c"/>
<path d="M133.1 330.7 L136.2 333.8 L133.1 336.9 L130.0 333.8 Z" fill="#0c0c0c"/>
<path d="M162.2 330.7 L165.3 333.8 L162.2 336.9 L159.1 333.8 Z" fill="#0c0c0c"/>
<text x="63" y="350.0" font-size="10" fill="#111">2000</text>
<line x1="103.9" y1="344.5" x2="162.2" y2="344.5" stroke="#585858" stroke-width="1.6" stroke-dasharray="15.5 4"/>
<circle cx="103.9" cy="344.5" r="2.65" fill="none" stroke="#585858" stroke-width="1.4"/>
<circle cx="133.1" cy="344.5" r="2.65" fill="none" stroke="#585858" stroke-width="1.4"/>
<circle cx="162.2" cy="344.5" r="2.65" fill="none" stroke="#585858" stroke-width="1.4"/>
<text x="63" y="360.6" font-size="10" fill="#111">2002</text>
<line x1="103.9" y1="355.1" x2="162.2" y2="355.1" stroke="#585858" stroke-width="1.6" stroke-dasharray="15.5 4"/>
<path d="M103.9 352.5 L106.8 356.0 L101.0 356.0 Z" fill="none" stroke="#585858" stroke-width="1.4"/>
<path d="M133.1 352.5 L136.0 356.0 L130.2 356.0 Z" fill="none" stroke="#585858" stroke-width="1.4"/>
<path d="M162.2 352.5 L165.1 356.0 L159.3 356.0 Z" fill="none" stroke="#585858" stroke-width="1.4"/>
<text x="63" y="371.3" font-size="10" fill="#111">2005</text>
<line x1="103.9" y1="365.8" x2="162.2" y2="365.8" stroke="#585858" stroke-width="1.6" stroke-dasharray="15.5 4"/>
<path d="M101.0 363.9 L106.8 363.9 L103.9 369.4 Z" fill="none" stroke="#585858" stroke-width="1.4"/>
<path d="M130.2 363.9 L136.0 363.9 L133.1 369.4 Z" fill="none" stroke="#585858" stroke-width="1.4"/>
<path d="M159.3 363.9 L165.1 363.9 L162.2 369.4 Z" fill="none" stroke="#585858" stroke-width="1.4"/>
</g>
<g id="panelC">
<text x="1.2" y="544.9" font-size="20" font-weight="bold" fill="#111">C</text>
<text x="84" y="543.3" font-size="18.30" fill="#111">High Sokal scores</text>
<text x="196" y="561.8" font-size="12.7" fill="#111" text-anchor="middle">(significant effect of year of diagnosis)</text>
<line x1="50.4" y1="708.9" x2="492.2" y2="708.9" stroke="#9a9a9a" stroke-width="1.1" stroke-dasharray="4.3 3.87"/>
<line x1="50.4" y1="682.0" x2="492.2" y2="682.0" stroke="#9a9a9a" stroke-width="1.1" stroke-dasharray="4.3 3.87"/>
<line x1="50.4" y1="655.2" x2="492.2" y2="655.2" stroke="#9a9a9a" stroke-width="1.1" stroke-dasharray="4.3 3.87"/>
<line x1="50.4" y1="628.4" x2="492.2" y2="628.4" stroke="#9a9a9a" stroke-width="1.1" stroke-dasharray="4.3 3.87"/>
<line x1="50.4" y1="601.5" x2="492.2" y2="601.5" stroke="#9a9a9a" stroke-width="1.1" stroke-dasharray="4.3 3.87"/>
<line x1="50.4" y1="574.6" x2="492.2" y2="574.6" stroke="#9a9a9a" stroke-width="1.1" stroke-dasharray="4.3 3.87"/>
<g clip-path="url(#cpC)" fill="none">
<path d="M75.2 685.0 L76.5 688.8 L77.9 692.3 L79.3 695.5 L80.6 698.4 L82.0 701.1 L83.3 703.4 L84.7 705.0 L86.0 706.0 L87.4 706.9 L88.8 707.7 L90.1 708.2 L91.5 708.4 L92.8 708.4 L94.2 708.4 L95.6 708.3 L96.9 708.3 L98.3 708.3 L99.6 708.3 L101.0 708.2 L102.3 708.2 L103.7 708.2 L105.1 708.2 L106.4 708.1 L107.8 708.1 L109.1 708.1 L110.5 708.0 L111.9 708.0 L113.2 708.0 L114.6 708.0 L115.9 708.0 L117.3 707.9 L118.7 707.9 L120.0 707.9 L121.4 707.9 L122.7 707.8 L124.1 707.8 L125.4 707.8 L126.8 707.8 L128.2 707.7 L129.5 707.7 L130.9 707.6 L132.2 707.6 L133.6 707.5 L135.0 707.4 L136.3 707.2 L137.7 707.0 L139.0 706.7 L140.4 706.4 L141.7 706.1 L143.1 705.7 L144.5 705.4 L145.8 705.0 L147.2 704.6 L148.5 704.1 L149.9 703.7 L151.3 703.1 L152.6 702.5 L154.0 701.9 L155.3 701.1 L156.7 700.3 L158.1 699.5 L159.4 698.6 L160.8 697.6 L162.1 696.6 L163.5 695.6 L164.8 694.6 L166.2 693.5 L167.6 692.5 L168.9 691.4 L170.3 690.3 L171.6 689.2 L173.0 688.2 L174.4 687.1 L175.7 685.9 L177.1 684.7 L178.4 683.5 L179.8 682.2 L181.1 680.9 L182.5 679.5 L183.9 678.1 L185.2 676.8 L186.6 675.4 L187.9 674.0 L189.3 672.7 L190.7 671.4 L192.0 670.1 L193.4 668.9 L194.7 667.7 L196.1 666.5 L197.5 665.2 L198.8 663.9 L200.2 662.6 L201.5 661.3 L202.9 660.1 L204.2 658.8 L205.6 657.7 L207.0 656.5 L208.3 655.5 L209.7 654.6 L211.0 653.7 L212.4 653.0 L213.8 652.4 L215.1 651.9 L216.5 651.4 L217.8 651.0 L219.2 650.5 L220.5 650.2 L221.9 649.8 L223.3 649.6 L224.6 649.4 L226.0 649.3 L227.3 649.3 L228.7 649.4 L230.1 649.5 L231.4 649.7 L232.8 649.9 L234.1 650.2 L235.5 650.5 L236.9 650.8 L238.2 651.1 L239.6 651.4 L240.9 651.8 L242.3 652.2 L243.6 652.8 L245.0 653.3 L246.4 654.0 L247.7 654.6 L249.1 655.3 L250.4 656.0 L251.8 656.7 L253.2 657.4 L254.5 658.2 L255.9 658.9 L257.2 659.6 L258.6 660.4 L259.9 661.2 L261.3 662.0 L262.7 662.9 L264.0 663.8 L265.4 664.7 L266.7 665.5 L268.1 666.5 L269.5 667.4 L270.8 668.3 L272.2 669.2 L273.5 670.1 L274.9 670.9 L276.3 671.8 L277.6 672.7 L279.0 673.6 L280.3 674.6 L281.7 675.5 L283.0 676.5 L284.4 677.4 L285.8 678.3 L287.1 679.3 L288.5 680.2 L289.8 681.1 L291.2 681.9 L292.6 682.7 L293.9 683.5 L295.3 684.2 L296.6 684.8 L298.0 685.4 L299.3 686.1 L300.7 686.7 L302.1 687.3 L303.4 687.8 L304.8 688.4 L306.1 688.9 L307.5 689.4 L308.9 689.9 L310.2 690.4 L311.6 690.8 L312.9 691.3 L314.3 691.7 L315.7 692.1 L317.0 692.4 L318.4 692.8 L319.7 693.2 L321.1 693.5 L322.4 693.8 L323.8 694.2 L325.2 694.5 L326.5 694.8 L327.9 695.1 L329.2 695.4 L330.6 695.6 L332.0 695.9 L333.3 696.1 L334.7 696.3 L336.0 696.5 L337.4 696.6 L338.7 696.8 L340.1 696.9 L341.5 697.1 L342.8 697.2 L344.2 697.4 L345.5 697.5 L346.9 697.7 L348.3 697.8 L349.6 697.9 L351.0 698.1 L352.3 698.2 L353.7 698.3 L355.1 698.4 L356.4 698.5 L357.8 698.7 L359.1 698.8 L360.5 698.9 L361.8 698.9 L363.2 699.0 L364.6 699.1 L365.9 699.2 L367.3 699.3 L368.6 699.3 L370.0 699.4 L371.4 699.4 L372.7 699.4 L374.1 699.5 L375.4 699.5 L376.8 699.5 L378.1 699.5 L379.5 699.5 L380.9 699.4 L382.2 699.4 L383.6 699.3 L384.9 699.2 L386.3 699.1 L387.7 698.9 L389.0 698.8 L390.4 698.6 L391.7 698.5 L393.1 698.3 L394.5 698.1 L395.8 697.9 L397.2 697.7 L398.5 697.4 L399.9 697.2 L401.2 697.0 L402.6 696.7 L404.0 696.5 L405.3 696.1 L406.7 695.8 L408.0 695.4 L409.4 694.9 L410.8 694.4 L412.1 693.9 L413.5 693.4 L414.8 692.8 L416.2 692.2 L417.5 691.6 L418.9 691.0 L420.3 690.4 L421.6 689.7 L423.0 688.9 L424.3 688.0 L425.7 687.0 L427.1 685.8 L428.4 684.3 L429.8 682.5 L431.1 680.4 L432.5 678.2 L433.9 675.9 L435.2 673.4 L436.6 670.7 L437.9 667.6 L439.3 664.3 L440.6 660.6 L442.0 656.5 L443.4 652.0 L444.7 646.6 L446.1 640.3 L447.4 633.3 L448.8 625.7 L450.2 617.5 L451.5 608.1 L452.9 598.1 L454.2 588.0 L455.6 577.5 L456.9 566.6" stroke="#2e2e2e" stroke-width="1.7"/>
<path d="M75.2 690.1 L76.5 690.8 L77.9 691.5 L79.2 692.1 L80.6 692.6 L82.0 693.0 L83.3 693.3 L84.7 693.5 L86.0 693.7 L87.4 693.9 L88.8 694.0 L90.1 694.1 L91.5 694.1 L92.8 694.1 L94.2 694.1 L95.5 694.0 L96.9 693.9 L98.3 693.8 L99.6 693.7 L101.0 693.6 L102.3 693.4 L103.7 693.3 L105.0 693.1 L106.4 693.0 L107.8 692.8 L109.1 692.6 L110.5 692.4 L111.8 692.1 L113.2 691.8 L114.6 691.5 L115.9 691.1 L117.3 690.8 L118.6 690.4 L120.0 689.9 L121.3 689.5 L122.7 689.0 L124.1 688.4 L125.4 687.8 L126.8 687.2 L128.1 686.6 L129.5 685.9 L130.8 685.3 L132.2 684.6 L133.6 683.8 L134.9 683.1 L136.3 682.2 L137.6 681.3 L139.0 680.4 L140.4 679.5 L141.7 678.5 L143.1 677.5 L144.4 676.4 L145.8 675.4 L147.1 674.3 L148.5 673.3 L149.9 672.2 L151.2 671.2 L152.6 670.2 L153.9 669.1 L155.3 668.1 L156.6 667.0 L158.0 665.9 L159.4 664.8 L160.7 663.7 L162.1 662.6 L163.4 661.5 L164.8 660.4 L166.2 659.3 L167.5 658.2 L168.9 657.1 L170.2 656.1 L171.6 655.1 L172.9 654.1 L174.3 653.1 L175.7 652.1 L177.0 651.2 L178.4 650.2 L179.7 649.1 L181.1 648.1 L182.4 647.1 L183.8 646.1 L185.2 645.1 L186.5 644.1 L187.9 643.1 L189.2 642.1 L190.6 641.1 L192.0 640.1 L193.3 639.2 L194.7 638.2 L196.0 637.3 L197.4 636.4 L198.7 635.5 L200.1 634.7 L201.5 633.9 L202.8 633.1 L204.2 632.3 L205.5 631.6 L206.9 631.0 L208.2 630.3 L209.6 629.7 L211.0 629.2 L212.3 628.7 L213.7 628.2 L215.0 627.8 L216.4 627.4 L217.8 627.0 L219.1 626.6 L220.5 626.2 L221.8 625.8 L223.2 625.4 L224.5 625.1 L225.9 624.7 L227.3 624.4 L228.6 624.1 L230.0 623.9 L231.3 623.6 L232.7 623.4 L234.0 623.2 L235.4 623.1 L236.8 623.0 L238.1 623.0 L239.5 623.0 L240.8 623.0 L242.2 623.0 L243.6 623.1 L244.9 623.1 L246.3 623.2 L247.6 623.3 L249.0 623.4 L250.3 623.4 L251.7 623.5 L253.1 623.6 L254.4 623.7 L255.8 623.8 L257.1 624.0 L258.5 624.2 L259.8 624.4 L261.2 624.6 L262.6 624.8 L263.9 625.1 L265.3 625.4 L266.6 625.8 L268.0 626.1 L269.4 626.5 L270.7 626.9 L272.1 627.3 L273.4 627.7 L274.8 628.1 L276.1 628.5 L277.5 629.0 L278.9 629.4 L280.2 629.9 L281.6 630.3 L282.9 630.8 L284.3 631.3 L285.6 631.7 L287.0 632.2 L288.4 632.7 L289.7 633.1 L291.1 633.6 L292.4 634.0 L293.8 634.4 L295.2 634.8 L296.5 635.2 L297.9 635.6 L299.2 636.1 L300.6 636.5 L301.9 636.9 L303.3 637.3 L304.7 637.8 L306.0 638.2 L307.4 638.6 L308.7 639.1 L310.1 639.5 L311.4 640.0 L312.8 640.4 L314.2 640.9 L315.5 641.3 L316.9 641.8 L318.2 642.2 L319.6 642.7 L321.0 643.1 L322.3 643.5 L323.7 644.0 L325.0 644.4 L326.4 644.8 L327.7 645.3 L329.1 645.7 L330.5 646.1 L331.8 646.5 L333.2 646.9 L334.5 647.3 L335.9 647.7 L337.2 648.1 L338.6 648.5 L340.0 648.9 L341.3 649.2 L342.7 649.6 L344.0 650.0 L345.4 650.4 L346.8 650.8 L348.1 651.2 L349.5 651.6 L350.8 652.0 L352.2 652.4 L353.5 652.8 L354.9 653.2 L356.3 653.6 L357.6 653.9 L359.0 654.3 L360.3 654.7 L361.7 655.0 L363.0 655.3 L364.4 655.7 L365.8 656.0 L367.1 656.3 L368.5 656.6 L369.8 656.9 L371.2 657.1 L372.6 657.4 L373.9 657.6 L375.3 657.8 L376.6 658.0 L378.0 658.2 L379.3 658.4 L380.7 658.5 L382.1 658.7 L383.4 658.9 L384.8 659.1 L386.1 659.2 L387.5 659.4 L388.8 659.5 L390.2 659.6 L391.6 659.8 L392.9 659.9 L394.3 659.9 L395.6 660.0 L397.0 660.0 L398.4 660.0 L399.7 660.0 L401.1 660.0 L402.4 659.9 L403.8 659.8 L405.1 659.7 L406.5 659.6 L407.9 659.5 L409.2 659.3 L410.6 659.2 L411.9 659.0 L413.3 658.9 L414.6 658.7 L416.0 658.5 L417.4 658.3 L418.7 658.1 L420.1 657.9 L421.4 657.7 L422.8 657.5 L424.2 657.2 L425.5 656.9 L426.9 656.6 L428.2 656.2 L429.6 655.9 L430.9 655.5 L432.3 655.1 L433.7 654.7 L435.0 654.3 L436.4 653.8 L437.7 653.3 L439.1 652.8 L440.4 652.3 L441.8 651.8 L443.2 651.3 L444.5 650.7 L445.9 650.1 L447.2 649.5 L448.6 648.9 L450.0 648.2 L451.3 647.6 L452.7 646.9 L454.0 646.2 L455.4 645.5 L456.7 644.8 L458.1 644.1 L459.5 643.4 L460.8 642.5 L462.2 641.6 L463.5 640.6 L464.9 639.4 L466.2 638.2 L467.6 636.9 L469.0 635.6 L470.3 634.2 L471.7 632.7 L473.0 631.3 L474.4 629.8 L475.8 628.4" stroke="#0c0c0c" stroke-width="1.3"/>
<path d="M75.2 699.8 L76.5 699.0 L77.9 698.2 L79.2 697.3 L80.6 696.5 L82.0 695.6 L83.3 694.7 L84.7 693.8 L86.0 692.8 L87.4 691.7 L88.8 690.6 L90.1 689.5 L91.5 688.4 L92.8 687.3 L94.2 686.2 L95.5 685.3 L96.9 684.4 L98.3 683.6 L99.6 682.9 L101.0 682.1 L102.3 681.4 L103.7 680.7 L105.0 680.1 L106.4 679.4 L107.8 678.8 L109.1 678.2 L110.5 677.6 L111.8 677.0 L113.2 676.5 L114.6 676.0 L115.9 675.4 L117.3 674.9 L118.6 674.5 L120.0 674.0 L121.3 673.5 L122.7 673.1 L124.1 672.7 L125.4 672.3 L126.8 671.9 L128.1 671.5 L129.5 671.2 L130.8 670.8 L132.2 670.5 L133.6 670.3 L134.9 670.0 L136.3 669.8 L137.6 669.5 L139.0 669.3 L140.4 669.1 L141.7 668.9 L143.1 668.7 L144.4 668.5 L145.8 668.3 L147.1 668.1 L148.5 667.9 L149.9 667.7 L151.2 667.6 L152.6 667.4 L153.9 667.2 L155.3 667.0 L156.6 666.9 L158.0 666.7 L159.4 666.5 L160.7 666.4 L162.1 666.2 L163.4 666.0 L164.8 665.8 L166.2 665.7 L167.5 665.5 L168.9 665.3 L170.2 665.1 L171.6 664.9 L172.9 664.7 L174.3 664.4 L175.7 664.2 L177.0 664.0 L178.4 663.7 L179.7 663.5 L181.1 663.2 L182.4 663.0 L183.8 662.7 L185.2 662.4 L186.5 662.2 L187.9 661.9 L189.2 661.6 L190.6 661.4 L192.0 661.1 L193.3 660.8 L194.7 660.5 L196.0 660.3 L197.4 660.0 L198.7 659.7 L200.1 659.4 L201.5 659.2 L202.8 658.9 L204.2 658.6 L205.5 658.4 L206.9 658.1 L208.2 657.9 L209.6 657.6 L211.0 657.4 L212.3 657.1 L213.7 656.9 L215.0 656.7 L216.4 656.4 L217.8 656.2 L219.1 656.0 L220.5 655.8 L221.8 655.6 L223.2 655.3 L224.5 655.1 L225.9 654.9 L227.3 654.7 L228.6 654.5 L230.0 654.3 L231.3 654.1 L232.7 653.9 L234.0 653.7 L235.4 653.5 L236.8 653.3 L238.1 653.1 L239.5 652.9 L240.8 652.7 L242.2 652.5 L243.6 652.3 L244.9 652.1 L246.3 651.9 L247.6 651.7 L249.0 651.5 L250.3 651.3 L251.7 651.1 L253.1 650.9 L254.4 650.7 L255.8 650.5 L257.1 650.3 L258.5 650.1 L259.8 649.9 L261.2 649.7 L262.6 649.5 L263.9 649.2 L265.3 649.0 L266.6 648.7 L268.0 648.5 L269.4 648.3 L270.7 648.0 L272.1 647.8 L273.4 647.6 L274.8 647.3 L276.1 647.1 L277.5 646.9 L278.9 646.7 L280.2 646.5 L281.6 646.3 L282.9 646.1 L284.3 646.0 L285.6 645.8 L287.0 645.7 L288.4 645.6 L289.7 645.5 L291.1 645.4 L292.4 645.3 L293.8 645.3 L295.2 645.3 L296.5 645.3 L297.9 645.3 L299.2 645.3 L300.6 645.3 L301.9 645.3 L303.3 645.3 L304.7 645.3 L306.0 645.4 L307.4 645.4 L308.7 645.4 L310.1 645.5 L311.4 645.5 L312.8 645.5 L314.2 645.6 L315.5 645.6 L316.9 645.7 L318.2 645.7 L319.6 645.8 L321.0 645.8 L322.3 645.9 L323.7 645.9 L325.0 646.0 L326.4 646.1 L327.7 646.1 L329.1 646.2 L330.5 646.3 L331.8 646.3 L333.2 646.4 L334.5 646.5 L335.9 646.6 L337.2 646.6 L338.6 646.7 L340.0 646.8 L341.3 646.9 L342.7 647.1 L344.0 647.2 L345.4 647.4 L346.8 647.6 L348.1 647.8 L349.5 648.0 L350.8 648.2 L352.2 648.4 L353.5 648.6 L354.9 648.9 L356.3 649.1 L357.6 649.4 L359.0 649.6 L360.3 649.9 L361.7 650.2 L363.0 650.5 L364.4 650.8 L365.8 651.1 L367.1 651.4 L368.5 651.7 L369.8 652.0 L371.2 652.3 L372.6 652.6 L373.9 653.0 L375.3 653.3 L376.6 653.6 L378.0 653.9 L379.3 654.3 L380.7 654.6 L382.1 655.0 L383.4 655.4 L384.8 655.8 L386.1 656.3 L387.5 656.7 L388.8 657.2 L390.2 657.6 L391.6 658.1 L392.9 658.6 L394.3 659.1 L395.6 659.6 L397.0 660.2 L398.4 660.7 L399.7 661.2 L401.1 661.8 L402.4 662.3 L403.8 662.8 L405.1 663.4 L406.5 663.9 L407.9 664.5 L409.2 665.0 L410.6 665.6 L411.9 666.1 L413.3 666.6 L414.6 667.2 L416.0 667.7 L417.4 668.2 L418.7 668.7 L420.1 669.2 L421.4 669.7 L422.8 670.2 L424.2 670.7 L425.5 671.2 L426.9 671.8 L428.2 672.3 L429.6 672.8 L430.9 673.3 L432.3 673.9 L433.7 674.4 L435.0 674.9 L436.4 675.4 L437.7 676.0 L439.1 676.5 L440.4 677.0 L441.8 677.5 L443.2 678.0 L444.5 678.6 L445.9 679.1 L447.2 679.6 L448.6 680.1 L450.0 680.6 L451.3 681.1 L452.7 681.6 L454.0 682.1 L455.4 682.5 L456.7 683.0 L458.1 683.5 L459.5 683.9 L460.8 684.4 L462.2 684.8 L463.5 685.3 L464.9 685.7 L466.2 686.2 L467.6 686.6 L469.0 687.0 L470.3 687.4 L471.7 687.8 L473.0 688.2 L474.4 688.6 L475.8 689.0" stroke="#0c0c0c" stroke-width="1.4"/>
<path d="M75.2 708.9 L76.5 708.0 L77.9 707.0 L79.2 705.9 L80.6 704.8 L82.0 703.5 L83.3 702.2 L84.7 700.8 L86.0 699.4 L87.4 697.8 L88.8 696.1 L90.1 694.3 L91.5 692.3 L92.8 690.1 L94.2 687.6 L95.5 685.0 L96.9 682.5 L98.3 680.1 L99.6 677.6 L101.0 675.3 L102.3 673.0 L103.7 671.1 L105.0 669.5 L106.4 668.0 L107.8 666.5 L109.1 665.2 L110.5 663.9 L111.8 662.8 L113.2 661.9 L114.6 661.1 L115.9 660.6 L117.3 660.3 L118.6 659.9 L120.0 659.7 L121.3 659.4 L122.7 659.3 L124.1 659.2 L125.4 659.4 L126.8 660.0 L128.1 660.9 L129.5 662.0 L130.8 663.1 L132.2 664.2 L133.6 665.2 L134.9 666.3 L136.3 667.4 L137.6 668.6 L139.0 669.9 L140.4 671.1 L141.7 672.3 L143.1 673.6 L144.4 674.8 L145.8 675.9 L147.1 676.9 L148.5 677.9 L149.9 678.7 L151.2 679.6 L152.6 680.5 L153.9 681.4 L155.3 682.2 L156.6 683.1 L158.0 683.9 L159.4 684.7 L160.7 685.5 L162.1 686.3 L163.4 687.0 L164.8 687.6 L166.2 688.2 L167.5 688.8 L168.9 689.3 L170.2 689.7 L171.6 690.0 L172.9 690.3 L174.3 690.5 L175.7 690.7 L177.0 690.9 L178.4 691.1 L179.7 691.3 L181.1 691.5 L182.4 691.7 L183.8 691.8 L185.2 692.0 L186.5 692.2 L187.9 692.3 L189.2 692.5 L190.6 692.6 L192.0 692.7 L193.3 692.9 L194.7 693.0 L196.0 693.1 L197.4 693.2 L198.7 693.3 L200.1 693.4 L201.5 693.5 L202.8 693.6 L204.2 693.6 L205.5 693.7 L206.9 693.7 L208.2 693.8 L209.6 693.8 L211.0 693.8 L212.3 693.9 L213.7 693.9 L215.0 693.9 L216.4 693.8 L217.8 693.8 L219.1 693.8 L220.5 693.7 L221.8 693.6 L223.2 693.6 L224.5 693.5 L225.9 693.4 L227.3 693.3 L228.6 693.1 L230.0 693.0 L231.3 692.9 L232.7 692.7 L234.0 692.6 L235.4 692.4 L236.8 692.2 L238.1 692.0 L239.5 691.9 L240.8 691.7 L242.2 691.5 L243.6 691.3 L244.9 691.1 L246.3 690.9 L247.6 690.7 L249.0 690.5 L250.3 690.3 L251.7 690.1 L253.1 689.9 L254.4 689.7 L255.8 689.5 L257.1 689.2 L258.5 689.0 L259.8 688.7 L261.2 688.4 L262.6 688.1 L263.9 687.8 L265.3 687.4 L266.6 687.1 L268.0 686.7 L269.4 686.3 L270.7 685.9 L272.1 685.5 L273.4 685.1 L274.8 684.7 L276.1 684.2 L277.5 683.8 L278.9 683.4 L280.2 683.0 L281.6 682.5 L282.9 682.1 L284.3 681.7 L285.6 681.2 L287.0 680.8 L288.4 680.4 L289.7 680.0 L291.1 679.6 L292.4 679.2 L293.8 678.8 L295.2 678.5 L296.5 678.1 L297.9 677.8 L299.2 677.4 L300.6 677.1 L301.9 676.7 L303.3 676.3 L304.7 675.9 L306.0 675.6 L307.4 675.2 L308.7 674.8 L310.1 674.4 L311.4 674.1 L312.8 673.7 L314.2 673.3 L315.5 672.9 L316.9 672.6 L318.2 672.2 L319.6 671.9 L321.0 671.6 L322.3 671.2 L323.7 670.9 L325.0 670.6 L326.4 670.3 L327.7 670.1 L329.1 669.8 L330.5 669.5 L331.8 669.3 L333.2 669.1 L334.5 668.9 L335.9 668.7 L337.2 668.6 L338.6 668.4 L340.0 668.3 L341.3 668.1 L342.7 668.0 L344.0 667.8 L345.4 667.7 L346.8 667.6 L348.1 667.4 L349.5 667.3 L350.8 667.2 L352.2 667.2 L353.5 667.1 L354.9 667.0 L356.3 667.0 L357.6 667.0 L359.0 667.1 L360.3 667.2 L361.7 667.3 L363.0 667.5 L364.4 667.8 L365.8 668.1 L367.1 668.4 L368.5 668.7 L369.8 669.1 L371.2 669.5 L372.6 669.8 L373.9 670.2 L375.3 670.6 L376.6 671.0 L378.0 671.4 L379.3 671.8 L380.7 672.3 L382.1 672.7 L383.4 673.2 L384.8 673.8 L386.1 674.3 L387.5 674.9 L388.8 675.6 L390.2 676.2 L391.6 676.8 L392.9 677.5 L394.3 678.2 L395.6 678.9 L397.0 679.6 L398.4 680.3 L399.7 681.0 L401.1 681.8 L402.4 682.5 L403.8 683.2 L405.1 683.9 L406.5 684.6 L407.9 685.4 L409.2 686.1 L410.6 686.7 L411.9 687.4 L413.3 688.1 L414.6 688.7 L416.0 689.3 L417.4 689.9 L418.7 690.5 L420.1 691.0 L421.4 691.6 L422.8 692.1 L424.2 692.7 L425.5 693.2 L426.9 693.8 L428.2 694.4 L429.6 694.9 L430.9 695.5 L432.3 696.0 L433.7 696.6 L435.0 697.1 L436.4 697.7 L437.7 698.2 L439.1 698.7 L440.4 699.2 L441.8 699.7 L443.2 700.2 L444.5 700.7 L445.9 701.2 L447.2 701.7 L448.6 702.1 L450.0 702.5 L451.3 703.0 L452.7 703.4 L454.0 703.8 L455.4 704.1 L456.7 704.5 L458.1 704.8 L459.5 705.2 L460.8 705.5 L462.2 705.8 L463.5 706.0 L464.9 706.3 L466.2 706.6 L467.6 706.8 L469.0 707.1 L470.3 707.3 L471.7 707.5 L473.0 707.7 L474.4 707.9 L475.8 708.1" stroke="#585858" stroke-width="1.6" stroke-dasharray="15.5 4"/>
<path d="M75.2 708.9 L76.5 708.2 L77.9 707.3 L79.2 706.4 L80.6 705.3 L82.0 704.2 L83.3 703.0 L84.7 701.7 L86.0 700.3 L87.4 698.8 L88.8 697.1 L90.1 695.3 L91.5 693.4 L92.8 691.2 L94.2 688.7 L95.5 686.1 L96.9 683.6 L98.3 681.0 L99.6 678.3 L101.0 675.7 L102.3 673.3 L103.7 671.1 L105.0 669.5 L106.4 667.9 L107.8 666.3 L109.1 664.8 L110.5 663.5 L111.8 662.3 L113.2 661.4 L114.6 660.8 L115.9 660.6 L117.3 660.6 L118.6 660.8 L120.0 661.1 L121.3 661.5 L122.7 662.0 L124.1 662.7 L125.4 663.8 L126.8 665.3 L128.1 666.9 L129.5 668.7 L130.8 670.4 L132.2 671.9 L133.6 673.3 L134.9 674.8 L136.3 676.3 L137.6 677.9 L139.0 679.4 L140.4 680.9 L141.7 682.4 L143.1 683.8 L144.4 685.2 L145.8 686.4 L147.1 687.6 L148.5 688.6 L149.9 689.5 L151.2 690.4 L152.6 691.4 L153.9 692.3 L155.3 693.2 L156.6 694.0 L158.0 694.9 L159.4 695.7 L160.7 696.4 L162.1 697.2 L163.4 697.9 L164.8 698.5 L166.1 699.1 L167.5 699.6 L168.9 700.0 L170.2 700.3 L171.6 700.6 L172.9 700.8 L174.3 700.9 L175.7 701.1 L177.0 701.2 L178.4 701.3 L179.7 701.4 L181.1 701.5 L182.4 701.6 L183.8 701.7 L185.2 701.8 L186.5 701.9 L187.9 701.9 L189.2 702.0 L190.6 702.1 L191.9 702.2 L193.3 702.2 L194.7 702.3 L196.0 702.3 L197.4 702.4 L198.7 702.5 L200.1 702.5 L201.5 702.5 L202.8 702.6 L204.2 702.6 L205.5 702.6 L206.9 702.7 L208.2 702.7 L209.6 702.7 L211.0 702.7 L212.3 702.7 L213.7 702.7 L215.0 702.7 L216.4 702.7 L217.7 702.7 L219.1 702.7 L220.5 702.7 L221.8 702.7 L223.2 702.7 L224.5 702.6 L225.9 702.6 L227.3 702.6 L228.6 702.6 L230.0 702.5 L231.3 702.5 L232.7 702.5 L234.0 702.4 L235.4 702.4 L236.8 702.4 L238.1 702.3 L239.5 702.3 L240.8 702.2 L242.2 702.2 L243.5 702.1 L244.9 702.1 L246.3 702.0 L247.6 702.0 L249.0 701.9 L250.3 701.9 L251.7 701.8 L253.1 701.7 L254.4 701.7 L255.8 701.6 L257.1 701.5 L258.5 701.4 L259.8 701.3 L261.2 701.2 L262.6 701.0 L263.9 700.9 L265.3 700.7 L266.6 700.5 L268.0 700.3 L269.3 700.1 L270.7 699.9 L272.1 699.6 L273.4 699.4 L274.8 699.1 L276.1 698.9 L277.5 698.6 L278.9 698.4 L280.2 698.1 L281.6 697.8 L282.9 697.5 L284.3 697.3 L285.6 697.0 L287.0 696.7 L288.4 696.4 L289.7 696.1 L291.1 695.9 L292.4 695.6 L293.8 695.3 L295.1 695.1 L296.5 694.8 L297.9 694.6 L299.2 694.3 L300.6 694.0 L301.9 693.7 L303.3 693.4 L304.6 693.1 L306.0 692.8 L307.4 692.4 L308.7 692.1 L310.1 691.8 L311.4 691.5 L312.8 691.1 L314.2 690.8 L315.5 690.5 L316.9 690.1 L318.2 689.8 L319.6 689.5 L320.9 689.1 L322.3 688.8 L323.7 688.5 L325.0 688.2 L326.4 687.9 L327.7 687.6 L329.1 687.4 L330.4 687.1 L331.8 686.9 L333.2 686.6 L334.5 686.4 L335.9 686.2 L337.2 686.0 L338.6 685.8 L340.0 685.6 L341.3 685.4 L342.7 685.2 L344.0 685.0 L345.4 684.9 L346.7 684.7 L348.1 684.5 L349.5 684.4 L350.8 684.2 L352.2 684.1 L353.5 684.0 L354.9 684.0 L356.2 683.9 L357.6 683.9 L359.0 684.0 L360.3 684.0 L361.7 684.1 L363.0 684.3 L364.4 684.5 L365.8 684.7 L367.1 684.9 L368.5 685.1 L369.8 685.4 L371.2 685.6 L372.5 685.9 L373.9 686.1 L375.3 686.4 L376.6 686.7 L378.0 686.9 L379.3 687.2 L380.7 687.5 L382.0 687.9 L383.4 688.2 L384.8 688.6 L386.1 689.0 L387.5 689.4 L388.8 689.8 L390.2 690.2 L391.6 690.7 L392.9 691.1 L394.3 691.6 L395.6 692.1 L397.0 692.6 L398.3 693.0 L399.7 693.5 L401.1 694.0 L402.4 694.5 L403.8 695.0 L405.1 695.5 L406.5 695.9 L407.8 696.4 L409.2 696.8 L410.6 697.3 L411.9 697.7 L413.3 698.1 L414.6 698.5 L416.0 698.9 L417.3 699.2 L418.7 699.5 L420.1 699.9 L421.4 700.2 L422.8 700.5 L424.1 700.8 L425.5 701.1 L426.9 701.4 L428.2 701.7 L429.6 702.0 L430.9 702.3 L432.3 702.6 L433.6 702.9 L435.0 703.2 L436.4 703.5 L437.7 703.8 L439.1 704.0 L440.4 704.3 L441.8 704.6 L443.1 704.8 L444.5 705.1 L445.9 705.3 L447.2 705.6 L448.6 705.8 L449.9 706.0 L451.3 706.2 L452.7 706.4 L454.0 706.6 L455.4 706.8 L456.7 707.0 L458.1 707.1 L459.4 707.3 L460.8 707.4 L462.2 707.6 L463.5 707.7 L464.9 707.8 L466.2 708.0 L467.6 708.1 L468.9 708.2 L470.3 708.3 L471.7 708.4" stroke="#585858" stroke-width="1.6" stroke-dasharray="15.5 4"/>
<path d="M75.2 708.9 L76.5 708.8 L77.9 708.7 L79.2 708.4 L80.6 708.2 L82.0 707.9 L83.3 707.6 L84.7 707.2 L86.0 706.7 L87.4 706.2 L88.7 705.5 L90.1 704.8 L91.4 704.1 L92.8 703.3 L94.2 702.4 L95.5 701.4 L96.9 700.2 L98.2 698.5 L99.6 696.2 L100.9 693.5 L102.3 690.9 L103.7 687.9 L105.0 685.0 L106.4 682.7 L107.7 680.9 L109.1 679.2 L110.4 677.8 L111.8 676.9 L113.1 676.7 L114.5 676.9 L115.9 677.5 L117.2 678.1 L118.6 678.9 L119.9 680.0 L121.3 681.6 L122.6 683.5 L124.0 685.5 L125.4 687.3 L126.7 688.9 L128.1 690.0 L129.4 690.8 L130.8 691.4 L132.1 692.1 L133.5 692.9 L134.8 693.6 L136.2 694.4 L137.6 695.2 L138.9 696.0 L140.3 696.8 L141.6 697.6 L143.0 698.3 L144.3 699.0 L145.7 699.7 L147.0 700.2 L148.4 700.7 L149.8 701.2 L151.1 701.6 L152.5 702.0 L153.8 702.4 L155.2 702.8 L156.5 703.1 L157.9 703.5 L159.3 703.8 L160.6 704.1 L162.0 704.4 L163.3 704.7 L164.7 705.0 L166.0 705.2 L167.4 705.5 L168.7 705.7 L170.1 705.9 L171.5 706.0 L172.8 706.2 L174.2 706.3 L175.5 706.4 L176.9 706.5 L178.2 706.6 L179.6 706.7 L180.9 706.9 L182.3 707.0 L183.7 707.1 L185.0 707.1 L186.4 707.2 L187.7 707.3 L189.1 707.4 L190.4 707.5 L191.8 707.6 L193.2 707.7 L194.5 707.7 L195.9 707.8 L197.2 707.9 L198.6 707.9 L199.9 708.0 L201.3 708.0 L202.6 708.1 L204.0 708.1 L205.4 708.2 L206.7 708.2 L208.1 708.3 L209.4 708.3 L210.8 708.3 L212.1 708.3 L213.5 708.4 L214.9 708.4 L216.2 708.4 L217.6 708.4 L218.9 708.4 L220.3 708.4 L221.6 708.4 L223.0 708.5 L224.3 708.5 L225.7 708.5 L227.1 708.5 L228.4 708.5 L229.8 708.5 L231.1 708.5 L232.5 708.5 L233.8 708.6 L235.2 708.6 L236.5 708.6 L237.9 708.6 L239.3 708.6 L240.6 708.6 L242.0 708.6 L243.3 708.6 L244.7 708.6 L246.0 708.6 L247.4 708.6 L248.8 708.6 L250.1 708.6 L251.5 708.6 L252.8 708.6 L254.2 708.6 L255.5 708.6 L256.9 708.6 L258.2 708.6 L259.6 708.6 L261.0 708.6 L262.3 708.5 L263.7 708.5 L265.0 708.4 L266.4 708.4 L267.7 708.3 L269.1 708.3 L270.5 708.2 L271.8 708.1 L273.2 708.0 L274.5 708.0 L275.9 707.9 L277.2 707.8 L278.6 707.7 L279.9 707.6 L281.3 707.5 L282.7 707.4 L284.0 707.3 L285.4 707.2 L286.7 707.1 L288.1 707.0 L289.4 706.9 L290.8 706.8 L292.1 706.7 L293.5 706.6 L294.9 706.6 L296.2 706.5 L297.6 706.4 L298.9 706.3 L300.3 706.1 L301.6 706.0 L303.0 705.9 L304.4 705.8 L305.7 705.7" stroke="#585858" stroke-width="1.6" stroke-dasharray="15.5 4"/>
</g>
<g>
<rect x="86.7" y="703.6" width="9.6" height="9.6" fill="#2e2e2e"/>
<rect x="127.6" y="702.8" width="9.6" height="9.6" fill="#2e2e2e"/>
<rect x="168.5" y="683.2" width="9.6" height="9.6" fill="#2e2e2e"/>
<rect x="209.3" y="647.4" width="9.6" height="9.6" fill="#2e2e2e"/>
<rect x="250.2" y="653.6" width="9.6" height="9.6" fill="#2e2e2e"/>
<rect x="291.1" y="679.7" width="9.6" height="9.6" fill="#2e2e2e"/>
<rect x="332.0" y="691.7" width="9.6" height="9.6" fill="#2e2e2e"/>
<rect x="372.8" y="694.7" width="9.6" height="9.6" fill="#2e2e2e"/>
<rect x="413.7" y="686.4" width="9.6" height="9.6" fill="#2e2e2e"/>
<path d="M91.5 689.3 L96.1 696.6 L86.9 696.6 Z" fill="#0c0c0c"/>
<path d="M132.4 679.7 L137.0 687.0 L127.8 687.0 Z" fill="#0c0c0c"/>
<path d="M173.3 649.1 L177.9 656.4 L168.7 656.4 Z" fill="#0c0c0c"/>
<path d="M214.2 623.3 L218.8 630.6 L209.6 630.6 Z" fill="#0c0c0c"/>
<path d="M255.0 619.0 L259.6 626.3 L250.4 626.3 Z" fill="#0c0c0c"/>
<path d="M295.9 630.3 L300.5 637.6 L291.3 637.6 Z" fill="#0c0c0c"/>
<path d="M336.8 643.2 L341.4 650.5 L332.2 650.5 Z" fill="#0c0c0c"/>
<path d="M377.6 653.4 L382.2 660.7 L373.0 660.7 Z" fill="#0c0c0c"/>
<path d="M418.5 653.4 L423.1 660.7 L413.9 660.7 Z" fill="#0c0c0c"/>
<path d="M459.4 638.6 L464.0 645.9 L454.8 645.9 Z" fill="#0c0c0c"/>
<path d="M91.5 683.4 L96.4 688.3 L91.5 693.2 L86.6 688.3 Z" fill="#0c0c0c"/>
<path d="M132.4 665.6 L137.3 670.5 L132.4 675.4 L127.5 670.5 Z" fill="#0c0c0c"/>
<path d="M173.3 659.7 L178.2 664.6 L173.3 669.5 L168.4 664.6 Z" fill="#0c0c0c"/>
<path d="M214.2 651.9 L219.1 656.8 L214.2 661.7 L209.2 656.8 Z" fill="#0c0c0c"/>
<path d="M255.0 645.7 L259.9 650.6 L255.0 655.5 L250.1 650.6 Z" fill="#0c0c0c"/>
<path d="M295.9 640.4 L300.8 645.3 L295.9 650.2 L291.0 645.3 Z" fill="#0c0c0c"/>
<path d="M336.8 641.7 L341.7 646.6 L336.8 651.5 L331.9 646.6 Z" fill="#0c0c0c"/>
<path d="M377.6 649.0 L382.5 653.9 L377.6 658.8 L372.8 653.9 Z" fill="#0c0c0c"/>
<path d="M418.5 663.7 L423.4 668.6 L418.5 673.5 L413.6 668.6 Z" fill="#0c0c0c"/>
<path d="M459.4 679.0 L464.3 683.9 L459.4 688.8 L454.5 683.9 Z" fill="#0c0c0c"/>
<circle cx="91.5" cy="692.3" r="4.55" fill="none" stroke="#585858" stroke-width="1.4"/>
<circle cx="132.4" cy="664.3" r="4.55" fill="none" stroke="#585858" stroke-width="1.4"/>
<circle cx="173.3" cy="690.4" r="4.55" fill="none" stroke="#585858" stroke-width="1.4"/>
<circle cx="214.2" cy="693.9" r="4.55" fill="none" stroke="#585858" stroke-width="1.4"/>
<circle cx="255.0" cy="689.6" r="4.55" fill="none" stroke="#585858" stroke-width="1.4"/>
<circle cx="295.9" cy="678.3" r="4.55" fill="none" stroke="#585858" stroke-width="1.4"/>
<circle cx="336.8" cy="668.6" r="4.55" fill="none" stroke="#585858" stroke-width="1.4"/>
<circle cx="377.6" cy="671.3" r="4.55" fill="none" stroke="#585858" stroke-width="1.4"/>
<circle cx="418.5" cy="690.4" r="4.55" fill="none" stroke="#585858" stroke-width="1.4"/>
<circle cx="459.4" cy="705.1" r="4.55" fill="none" stroke="#585858" stroke-width="1.4"/>
<path d="M91.5 689.6 L96.3 695.6 L86.7 695.6 Z" fill="none" stroke="#585858" stroke-width="1.4"/>
<path d="M132.4 668.4 L137.2 674.4 L127.6 674.4 Z" fill="none" stroke="#585858" stroke-width="1.4"/>
<path d="M173.3 697.1 L178.1 703.1 L168.5 703.1 Z" fill="none" stroke="#585858" stroke-width="1.4"/>
<path d="M214.2 699.0 L219.0 705.0 L209.3 705.0 Z" fill="none" stroke="#585858" stroke-width="1.4"/>
<path d="M255.0 698.0 L259.8 704.0 L250.2 704.0 Z" fill="none" stroke="#585858" stroke-width="1.4"/>
<path d="M295.9 691.2 L300.7 697.2 L291.1 697.2 Z" fill="none" stroke="#585858" stroke-width="1.4"/>
<path d="M336.8 682.4 L341.6 688.4 L332.0 688.4 Z" fill="none" stroke="#585858" stroke-width="1.4"/>
<path d="M377.6 683.2 L382.4 689.2 L372.8 689.2 Z" fill="none" stroke="#585858" stroke-width="1.4"/>
<path d="M418.5 695.8 L423.3 701.8 L413.7 701.8 Z" fill="none" stroke="#585858" stroke-width="1.4"/>
<path d="M459.4 703.6 L464.2 709.6 L454.6 709.6 Z" fill="none" stroke="#585858" stroke-width="1.4"/>
<path d="M86.7 700.8 L96.3 700.8 L91.5 709.1 Z" fill="none" stroke="#585858" stroke-width="1.4"/>
<path d="M127.6 689.0 L137.2 689.0 L132.4 697.3 Z" fill="none" stroke="#585858" stroke-width="1.4"/>
<path d="M168.5 702.9 L178.1 702.9 L173.3 711.2 Z" fill="none" stroke="#585858" stroke-width="1.4"/>
<path d="M209.3 705.1 L219.0 705.1 L214.2 713.4 Z" fill="none" stroke="#585858" stroke-width="1.4"/>
<path d="M250.2 705.3 L259.8 705.3 L255.0 713.6 Z" fill="none" stroke="#585858" stroke-width="1.4"/>
<path d="M291.1 703.2 L300.7 703.2 L295.9 711.5 Z" fill="none" stroke="#585858" stroke-width="1.4"/>
</g>
<rect x="50.4" y="569.2" width="441.8" height="145.1" fill="none" stroke="#0a0a0a" stroke-width="1.55"/>
<line x1="67.0" y1="714.3" x2="67.0" y2="717.5" stroke="#111" stroke-width="1.2"/>
<text x="67.0" y="740.6" font-size="12.7" fill="#111" text-anchor="middle">0</text>
<line x1="148.8" y1="714.3" x2="148.8" y2="717.5" stroke="#111" stroke-width="1.2"/>
<text x="148.8" y="740.6" font-size="12.7" fill="#111" text-anchor="middle">1</text>
<line x1="230.5" y1="714.3" x2="230.5" y2="717.5" stroke="#111" stroke-width="1.2"/>
<text x="230.5" y="740.6" font-size="12.7" fill="#111" text-anchor="middle">2</text>
<line x1="312.2" y1="714.3" x2="312.2" y2="717.5" stroke="#111" stroke-width="1.2"/>
<text x="312.2" y="740.6" font-size="12.7" fill="#111" text-anchor="middle">3</text>
<line x1="394.0" y1="714.3" x2="394.0" y2="717.5" stroke="#111" stroke-width="1.2"/>
<text x="394.0" y="740.6" font-size="12.7" fill="#111" text-anchor="middle">4</text>
<line x1="475.8" y1="714.3" x2="475.8" y2="717.5" stroke="#111" stroke-width="1.2"/>
<text x="475.8" y="740.6" font-size="12.7" fill="#111" text-anchor="middle">5</text>
<line x1="47.2" y1="708.9" x2="50.4" y2="708.9" stroke="#111" stroke-width="1.2"/>
<line x1="492.2" y1="708.9" x2="495.4" y2="708.9" stroke="#111" stroke-width="1.2"/>
<text transform="translate(37.6 708.9) rotate(-90)" font-size="12.7" fill="#111" text-anchor="middle">0.0</text>
<text transform="translate(518.6 708.9) rotate(-90)" font-size="12.7" fill="#111" text-anchor="middle">0.0</text>
<line x1="47.2" y1="682.0" x2="50.4" y2="682.0" stroke="#111" stroke-width="1.2"/>
<line x1="492.2" y1="682.0" x2="495.4" y2="682.0" stroke="#111" stroke-width="1.2"/>
<line x1="47.2" y1="655.2" x2="50.4" y2="655.2" stroke="#111" stroke-width="1.2"/>
<line x1="492.2" y1="655.2" x2="495.4" y2="655.2" stroke="#111" stroke-width="1.2"/>
<text transform="translate(37.6 655.2) rotate(-90)" font-size="12.7" fill="#111" text-anchor="middle">0.2</text>
<text transform="translate(518.6 655.2) rotate(-90)" font-size="12.7" fill="#111" text-anchor="middle">0.2</text>
<line x1="47.2" y1="628.4" x2="50.4" y2="628.4" stroke="#111" stroke-width="1.2"/>
<line x1="492.2" y1="628.4" x2="495.4" y2="628.4" stroke="#111" stroke-width="1.2"/>
<line x1="47.2" y1="601.5" x2="50.4" y2="601.5" stroke="#111" stroke-width="1.2"/>
<line x1="492.2" y1="601.5" x2="495.4" y2="601.5" stroke="#111" stroke-width="1.2"/>
<text transform="translate(37.6 601.5) rotate(-90)" font-size="12.7" fill="#111" text-anchor="middle">0.4</text>
<text transform="translate(518.6 601.5) rotate(-90)" font-size="12.7" fill="#111" text-anchor="middle">0.4</text>
<line x1="47.2" y1="574.6" x2="50.4" y2="574.6" stroke="#111" stroke-width="1.2"/>
<line x1="492.2" y1="574.6" x2="495.4" y2="574.6" stroke="#111" stroke-width="1.2"/>
<text x="270.6" y="765.9" font-size="12.7" fill="#111" text-anchor="middle">Time since diagnosis (year)</text>
<text transform="translate(12.2 642.3) rotate(-90)" font-size="12.7" fill="#111" text-anchor="middle">Excess mortality rate</text>
<rect x="55.0" y="570.2" width="115.0" height="68.5" fill="#fff" stroke="#0a0a0a" stroke-width="1.55"/>
<text x="63" y="582.7" font-size="10" fill="#111">1990</text>
<line x1="103.9" y1="577.2" x2="162.2" y2="577.2" stroke="#2e2e2e" stroke-width="1.7"/>
<rect x="100.9" y="574.1" width="6.1" height="6.1" fill="#2e2e2e"/>
<rect x="130.0" y="574.1" width="6.1" height="6.1" fill="#2e2e2e"/>
<rect x="159.1" y="574.1" width="6.1" height="6.1" fill="#2e2e2e"/>
<text x="63" y="593.3" font-size="10" fill="#111">1995</text>
<line x1="103.9" y1="587.8" x2="162.2" y2="587.8" stroke="#0c0c0c" stroke-width="1.3"/>
<path d="M103.9 584.4 L106.8 588.7 L101.0 588.7 Z" fill="#0c0c0c"/>
<path d="M133.1 584.4 L136.0 588.7 L130.2 588.7 Z" fill="#0c0c0c"/>
<path d="M162.2 584.4 L165.1 588.7 L159.3 588.7 Z" fill="#0c0c0c"/>
<text x="63" y="604.0" font-size="10" fill="#111">1997</text>
<line x1="103.9" y1="598.5" x2="162.2" y2="598.5" stroke="#0c0c0c" stroke-width="1.4"/>
<path d="M103.9 595.4 L107.0 598.5 L103.9 601.6 L100.8 598.5 Z" fill="#0c0c0c"/>
<path d="M133.1 595.4 L136.2 598.5 L133.1 601.6 L130.0 598.5 Z" fill="#0c0c0c"/>
<path d="M162.2 595.4 L165.3 598.5 L162.2 601.6 L159.1 598.5 Z" fill="#0c0c0c"/>
<text x="63" y="614.6" font-size="10" fill="#111">2000</text>
<line x1="103.9" y1="609.1" x2="162.2" y2="609.1" stroke="#585858" stroke-width="1.6" stroke-dasharray="15.5 4"/>
<circle cx="103.9" cy="609.1" r="2.65" fill="none" stroke="#585858" stroke-width="1.4"/>
<circle cx="133.1" cy="609.1" r="2.65" fill="none" stroke="#585858" stroke-width="1.4"/>
<circle cx="162.2" cy="609.1" r="2.65" fill="none" stroke="#585858" stroke-width="1.4"/>
<text x="63" y="625.3" font-size="10" fill="#111">2002</text>
<line x1="103.9" y1="619.8" x2="162.2" y2="619.8" stroke="#585858" stroke-width="1.6" stroke-dasharray="15.5 4"/>
<path d="M103.9 617.2 L106.8 620.7 L101.0 620.7 Z" fill="none" stroke="#585858" stroke-width="1.4"/>
<path d="M133.1 617.2 L136.0 620.7 L130.2 620.7 Z" fill="none" stroke="#585858" stroke-width="1.4"/>
<path d="M162.2 617.2 L165.1 620.7 L159.3 620.7 Z" fill="none" stroke="#585858" stroke-width="1.4"/>
<text x="63" y="635.9" font-size="10" fill="#111">2005</text>
<line x1="103.9" y1="630.4" x2="162.2" y2="630.4" stroke="#585858" stroke-width="1.6" stroke-dasharray="15.5 4"/>
<path d="M101.0 628.5 L106.8 628.5 L103.9 634.0 Z" fill="none" stroke="#585858" stroke-width="1.4"/>
<path d="M130.2 628.5 L136.0 628.5 L133.1 634.0 Z" fill="none" stroke="#585858" stroke-width="1.4"/>
<path d="M159.3 628.5 L165.1 628.5 L162.2 634.0 Z" fill="none" stroke="#585858" stroke-width="1.4"/>
</g>
</g>
</svg>
</body></html>
